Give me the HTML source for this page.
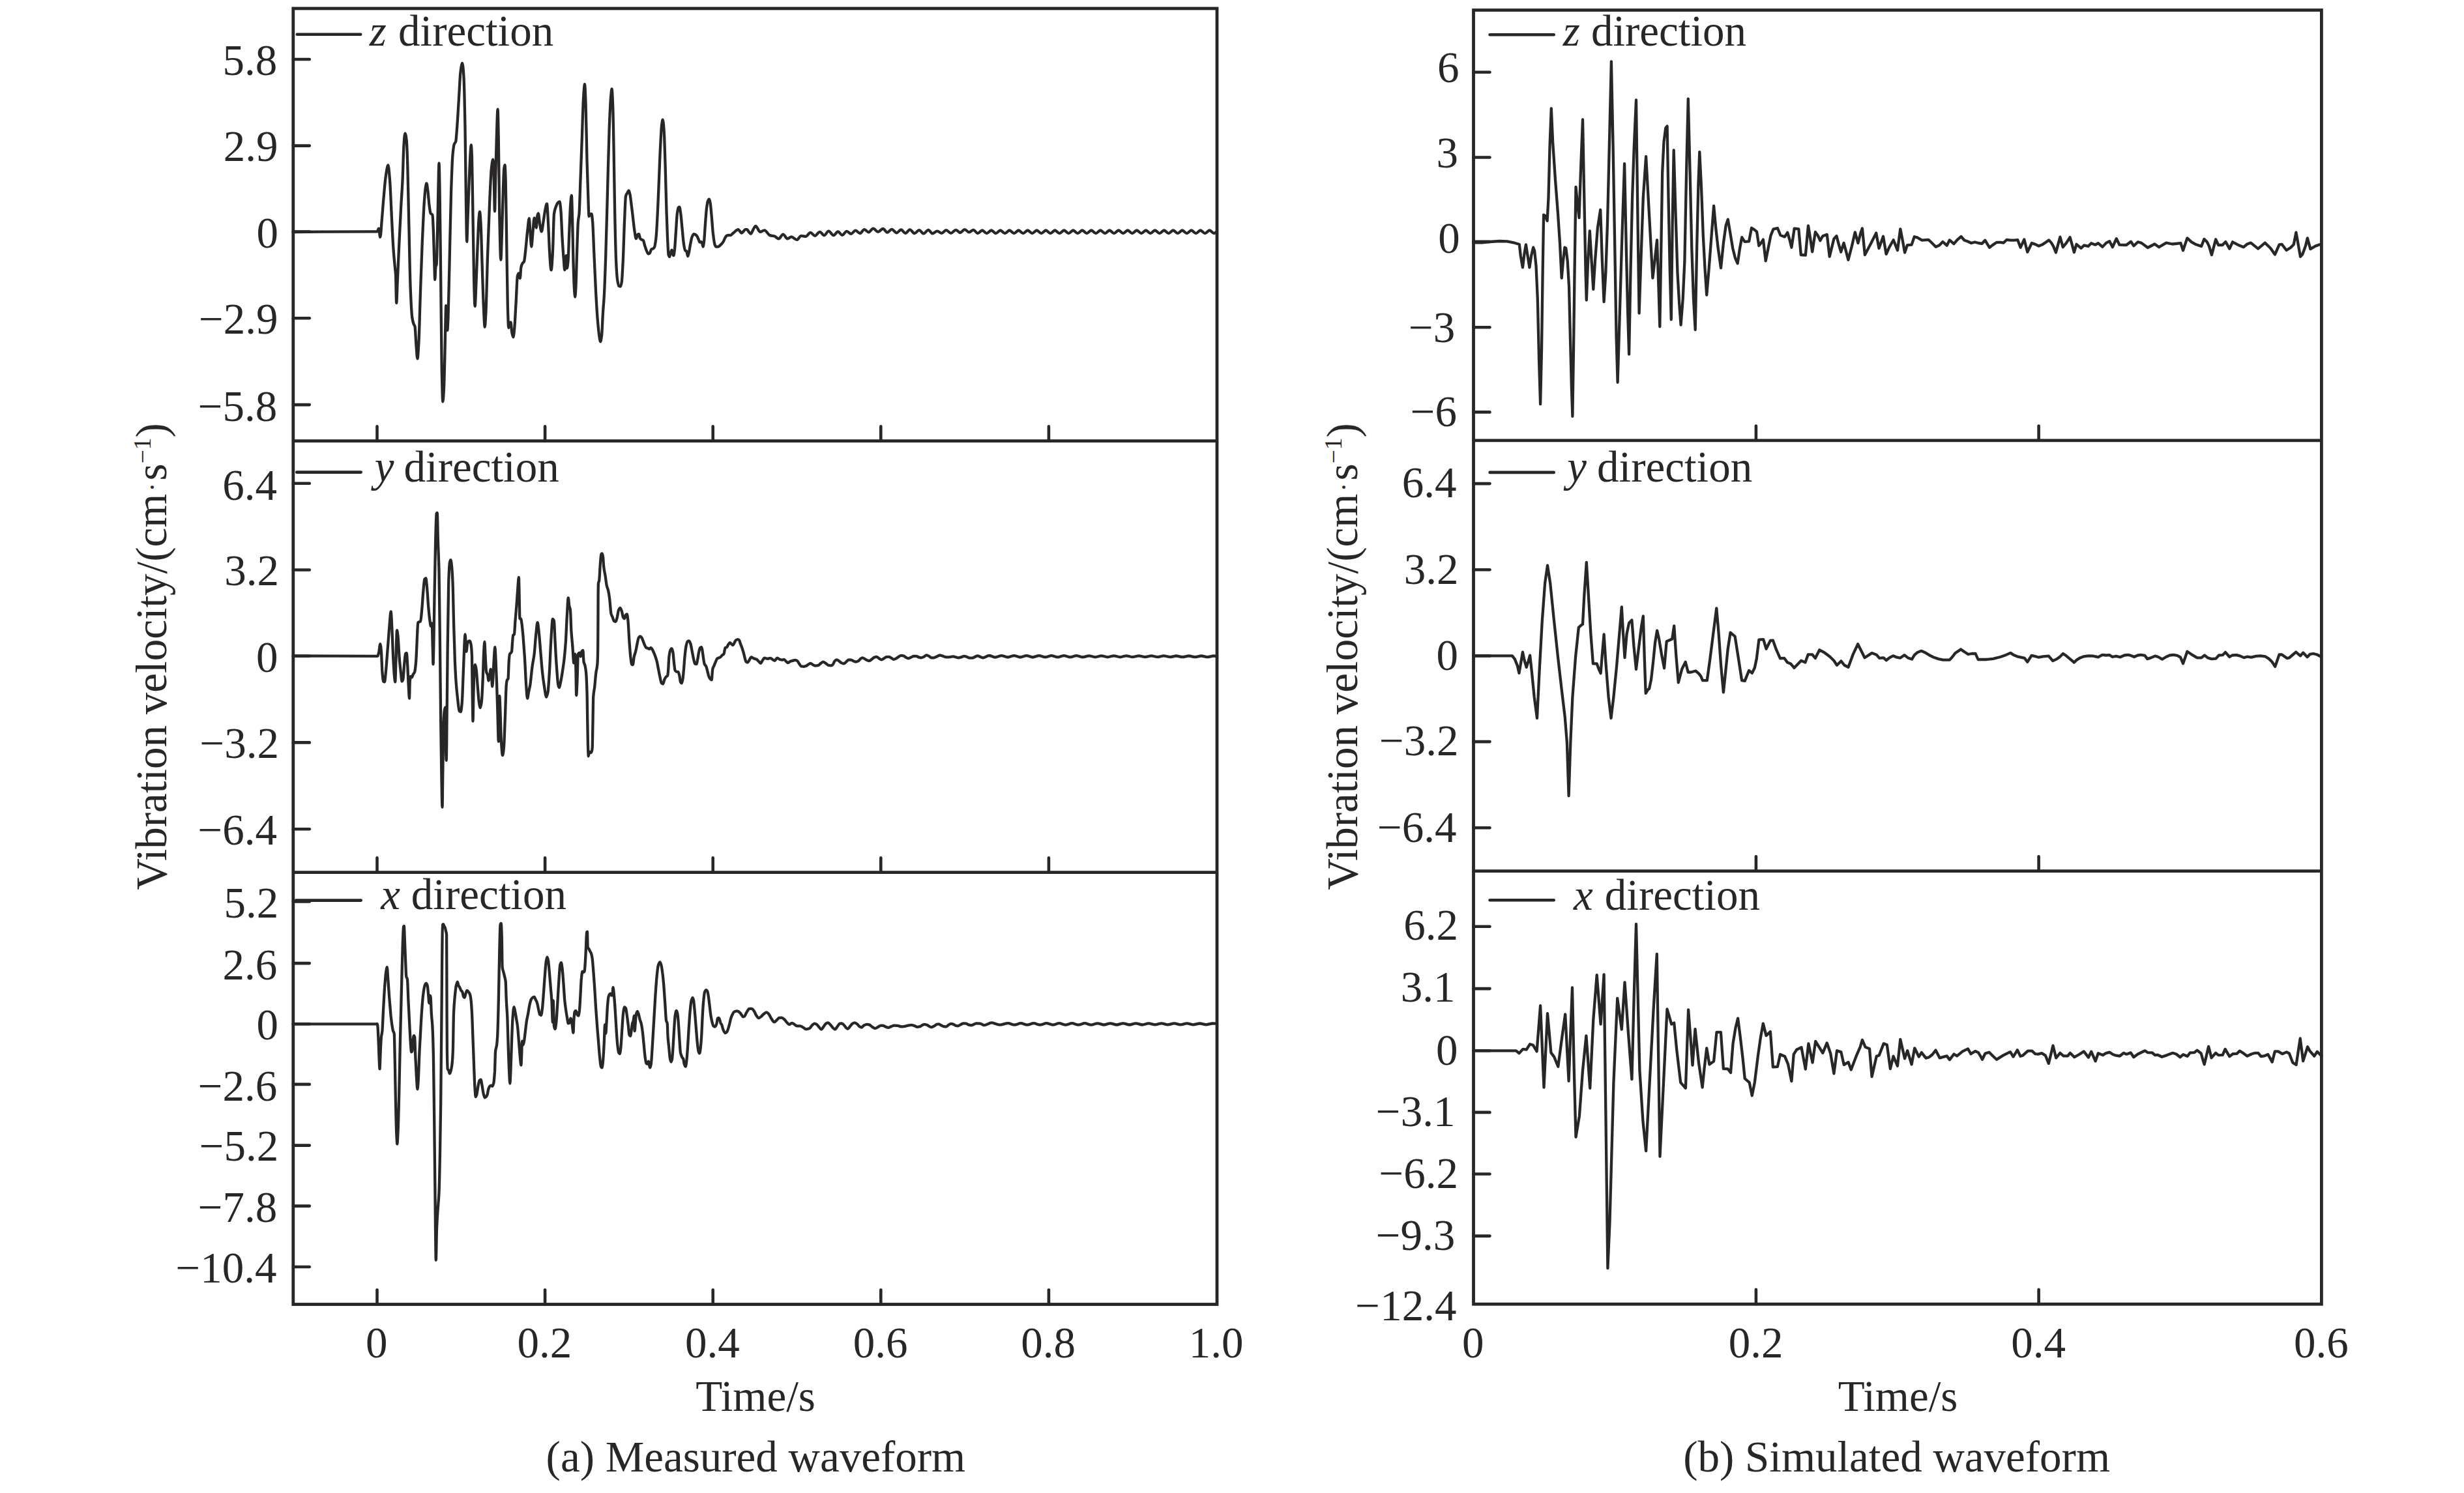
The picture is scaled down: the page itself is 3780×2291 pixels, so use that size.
<!DOCTYPE html>
<html lang="en"><head><meta charset="utf-8"><title>Measured and simulated vibration waveforms</title>
<style>
html,body{margin:0;padding:0;background:#fff;}
body{width:3780px;height:2291px;overflow:hidden;}
svg{display:block;}
svg text{font-family:"Liberation Serif",serif;font-size:67px;fill:#282627;stroke:none;}
</style></head><body>
<svg width="3780" height="2291" viewBox="0 0 3780 2291" stroke="#282627" fill="none">
<rect x="0" y="0" width="3780" height="2291" fill="#fff" stroke="none"/>
<rect x="449.8" y="13.0" width="1417.2" height="1988.5" fill="none" stroke-width="4.8"/>
<line x1="449.8" y1="676.7" x2="1867.0" y2="676.7" stroke-width="4.8" stroke-linecap="butt"/>
<line x1="449.8" y1="1338.7" x2="1867.0" y2="1338.7" stroke-width="4.8" stroke-linecap="butt"/>
<line x1="578.5" y1="676.7" x2="578.5" y2="654.4" stroke-width="4.6" stroke-linecap="round"/>
<line x1="836.1" y1="676.7" x2="836.1" y2="654.4" stroke-width="4.6" stroke-linecap="round"/>
<line x1="1093.7" y1="676.7" x2="1093.7" y2="654.4" stroke-width="4.6" stroke-linecap="round"/>
<line x1="1351.3" y1="676.7" x2="1351.3" y2="654.4" stroke-width="4.6" stroke-linecap="round"/>
<line x1="1608.9" y1="676.7" x2="1608.9" y2="654.4" stroke-width="4.6" stroke-linecap="round"/>
<line x1="578.5" y1="1338.7" x2="578.5" y2="1316.4" stroke-width="4.6" stroke-linecap="round"/>
<line x1="836.1" y1="1338.7" x2="836.1" y2="1316.4" stroke-width="4.6" stroke-linecap="round"/>
<line x1="1093.7" y1="1338.7" x2="1093.7" y2="1316.4" stroke-width="4.6" stroke-linecap="round"/>
<line x1="1351.3" y1="1338.7" x2="1351.3" y2="1316.4" stroke-width="4.6" stroke-linecap="round"/>
<line x1="1608.9" y1="1338.7" x2="1608.9" y2="1316.4" stroke-width="4.6" stroke-linecap="round"/>
<line x1="578.5" y1="2001.5" x2="578.5" y2="1979.2" stroke-width="4.6" stroke-linecap="round"/>
<line x1="836.1" y1="2001.5" x2="836.1" y2="1979.2" stroke-width="4.6" stroke-linecap="round"/>
<line x1="1093.7" y1="2001.5" x2="1093.7" y2="1979.2" stroke-width="4.6" stroke-linecap="round"/>
<line x1="1351.3" y1="2001.5" x2="1351.3" y2="1979.2" stroke-width="4.6" stroke-linecap="round"/>
<line x1="1608.9" y1="2001.5" x2="1608.9" y2="1979.2" stroke-width="4.6" stroke-linecap="round"/>
<text x="577.7" y="2083.0" text-anchor="middle">0</text>
<text x="835.3" y="2083.0" text-anchor="middle">0.2</text>
<text x="1092.9" y="2083.0" text-anchor="middle">0.4</text>
<text x="1350.5" y="2083.0" text-anchor="middle">0.6</text>
<text x="1608.1" y="2083.0" text-anchor="middle">0.8</text>
<text x="1865.7" y="2083.0" text-anchor="middle">1.0</text>
<line x1="449.8" y1="91.0" x2="474.8" y2="91.0" stroke-width="4.6" stroke-linecap="round"/>
<text x="425.3" y="115.0" text-anchor="end">5.8</text>
<line x1="449.8" y1="223.6" x2="474.8" y2="223.6" stroke-width="4.6" stroke-linecap="round"/>
<text x="426.5" y="247.4" text-anchor="end">2.9</text>
<line x1="449.8" y1="355.6" x2="474.8" y2="355.6" stroke-width="4.6" stroke-linecap="round"/>
<text x="427.0" y="379.7" text-anchor="end">0</text>
<line x1="449.8" y1="488.3" x2="474.8" y2="488.3" stroke-width="4.6" stroke-linecap="round"/>
<text x="426.5" y="512.4" text-anchor="end">−2.9</text>
<line x1="449.8" y1="621.1" x2="474.8" y2="621.1" stroke-width="4.6" stroke-linecap="round"/>
<text x="425.3" y="646.3" text-anchor="end">−5.8</text>
<line x1="449.8" y1="741.7" x2="474.8" y2="741.7" stroke-width="4.6" stroke-linecap="round"/>
<text x="425.0" y="766.8" text-anchor="end">6.4</text>
<line x1="449.8" y1="874.5" x2="474.8" y2="874.5" stroke-width="4.6" stroke-linecap="round"/>
<text x="428.0" y="898.1" text-anchor="end">3.2</text>
<line x1="449.8" y1="1006.8" x2="474.8" y2="1006.8" stroke-width="4.6" stroke-linecap="round"/>
<text x="426.6" y="1030.7" text-anchor="end">0</text>
<line x1="449.8" y1="1139.4" x2="474.8" y2="1139.4" stroke-width="4.6" stroke-linecap="round"/>
<text x="428.0" y="1163.1" text-anchor="end">−3.2</text>
<line x1="449.8" y1="1272.2" x2="474.8" y2="1272.2" stroke-width="4.6" stroke-linecap="round"/>
<text x="425.0" y="1296.1" text-anchor="end">−6.4</text>
<line x1="449.8" y1="1383.4" x2="474.8" y2="1383.4" stroke-width="4.6" stroke-linecap="round"/>
<text x="427.3" y="1408.2" text-anchor="end">5.2</text>
<line x1="449.8" y1="1478.1" x2="474.8" y2="1478.1" stroke-width="4.6" stroke-linecap="round"/>
<text x="425.3" y="1502.5" text-anchor="end">2.6</text>
<line x1="449.8" y1="1571.3" x2="474.8" y2="1571.3" stroke-width="4.6" stroke-linecap="round"/>
<text x="427.0" y="1595.1" text-anchor="end">0</text>
<line x1="449.8" y1="1663.9" x2="474.8" y2="1663.9" stroke-width="4.6" stroke-linecap="round"/>
<text x="425.3" y="1688.8" text-anchor="end">−2.6</text>
<line x1="449.8" y1="1757.6" x2="474.8" y2="1757.6" stroke-width="4.6" stroke-linecap="round"/>
<text x="427.3" y="1781.4" text-anchor="end">−5.2</text>
<line x1="449.8" y1="1850.6" x2="474.8" y2="1850.6" stroke-width="4.6" stroke-linecap="round"/>
<text x="425.3" y="1874.6" text-anchor="end">−7.8</text>
<line x1="449.8" y1="1944.0" x2="474.8" y2="1944.0" stroke-width="4.6" stroke-linecap="round"/>
<text x="424.5" y="1968.4" text-anchor="end">−10.4</text>
<line x1="455.8" y1="52.8" x2="553.2" y2="52.8" stroke-width="4.6" stroke-linecap="round"/>
<text y="70.0"><tspan x="566.8" font-style="italic">z</tspan><tspan x="611.1">direction</tspan></text>
<line x1="455.2" y1="724.6" x2="553.7" y2="724.6" stroke-width="4.6" stroke-linecap="round"/>
<text y="738.8"><tspan x="574.8" font-style="italic">y</tspan><tspan x="619.6">direction</tspan></text>
<line x1="454.2" y1="1381.6" x2="553.7" y2="1381.6" stroke-width="4.6" stroke-linecap="round"/>
<text y="1395.2"><tspan x="584.2" font-style="italic">x</tspan><tspan x="630.8">direction</tspan></text>
<rect x="2260.5" y="15.5" width="1300.9" height="1985.7" fill="none" stroke-width="4.8"/>
<line x1="2260.5" y1="675.8" x2="3561.4" y2="675.8" stroke-width="4.8" stroke-linecap="butt"/>
<line x1="2260.5" y1="1336.6" x2="3561.4" y2="1336.6" stroke-width="4.8" stroke-linecap="butt"/>
<line x1="2693.9" y1="675.8" x2="2693.9" y2="653.5" stroke-width="4.6" stroke-linecap="round"/>
<line x1="3127.6" y1="675.8" x2="3127.6" y2="653.5" stroke-width="4.6" stroke-linecap="round"/>
<line x1="2693.9" y1="1336.6" x2="2693.9" y2="1314.3" stroke-width="4.6" stroke-linecap="round"/>
<line x1="3127.6" y1="1336.6" x2="3127.6" y2="1314.3" stroke-width="4.6" stroke-linecap="round"/>
<line x1="2693.9" y1="2001.2" x2="2693.9" y2="1978.9" stroke-width="4.6" stroke-linecap="round"/>
<line x1="3127.6" y1="2001.2" x2="3127.6" y2="1978.9" stroke-width="4.6" stroke-linecap="round"/>
<text x="2259.8" y="2083.0" text-anchor="middle">0</text>
<text x="2693.5" y="2083.0" text-anchor="middle">0.2</text>
<text x="3127.2" y="2083.0" text-anchor="middle">0.4</text>
<text x="3560.9" y="2083.0" text-anchor="middle">0.6</text>
<line x1="2260.5" y1="110.7" x2="2285.5" y2="110.7" stroke-width="4.6" stroke-linecap="round"/>
<text x="2238.4" y="125.6" text-anchor="end">6</text>
<line x1="2260.5" y1="241.5" x2="2285.5" y2="241.5" stroke-width="4.6" stroke-linecap="round"/>
<text x="2237.0" y="257.4" text-anchor="end">3</text>
<line x1="2260.5" y1="370.9" x2="2285.5" y2="370.9" stroke-width="4.6" stroke-linecap="round"/>
<text x="2239.8" y="388.1" text-anchor="end">0</text>
<line x1="2260.5" y1="502.2" x2="2285.5" y2="502.2" stroke-width="4.6" stroke-linecap="round"/>
<text x="2232.3" y="524.8" text-anchor="end">−3</text>
<line x1="2260.5" y1="632.4" x2="2285.5" y2="632.4" stroke-width="4.6" stroke-linecap="round"/>
<text x="2235.0" y="654.2" text-anchor="end">−6</text>
<line x1="2260.5" y1="742.1" x2="2285.5" y2="742.1" stroke-width="4.6" stroke-linecap="round"/>
<text x="2234.5" y="763.2" text-anchor="end">6.4</text>
<line x1="2260.5" y1="874.3" x2="2285.5" y2="874.3" stroke-width="4.6" stroke-linecap="round"/>
<text x="2237.5" y="895.5" text-anchor="end">3.2</text>
<line x1="2260.5" y1="1006.4" x2="2285.5" y2="1006.4" stroke-width="4.6" stroke-linecap="round"/>
<text x="2237.0" y="1028.3" text-anchor="end">0</text>
<line x1="2260.5" y1="1138.1" x2="2285.5" y2="1138.1" stroke-width="4.6" stroke-linecap="round"/>
<text x="2237.5" y="1159.4" text-anchor="end">−3.2</text>
<line x1="2260.5" y1="1270.2" x2="2285.5" y2="1270.2" stroke-width="4.6" stroke-linecap="round"/>
<text x="2234.5" y="1291.7" text-anchor="end">−6.4</text>
<line x1="2260.5" y1="1421.7" x2="2285.5" y2="1421.7" stroke-width="4.6" stroke-linecap="round"/>
<text x="2237.0" y="1442.3" text-anchor="end">6.2</text>
<line x1="2260.5" y1="1517.1" x2="2285.5" y2="1517.1" stroke-width="4.6" stroke-linecap="round"/>
<text x="2232.4" y="1537.1" text-anchor="end">3.1</text>
<line x1="2260.5" y1="1612.3" x2="2285.5" y2="1612.3" stroke-width="4.6" stroke-linecap="round"/>
<text x="2236.5" y="1634.3" text-anchor="end">0</text>
<line x1="2260.5" y1="1706.9" x2="2285.5" y2="1706.9" stroke-width="4.6" stroke-linecap="round"/>
<text x="2232.4" y="1727.7" text-anchor="end">−3.1</text>
<line x1="2260.5" y1="1801.5" x2="2285.5" y2="1801.5" stroke-width="4.6" stroke-linecap="round"/>
<text x="2237.0" y="1822.7" text-anchor="end">−6.2</text>
<line x1="2260.5" y1="1896.6" x2="2285.5" y2="1896.6" stroke-width="4.6" stroke-linecap="round"/>
<text x="2232.3" y="1918.3" text-anchor="end">−9.3</text>
<text x="2234.4" y="2026.3" text-anchor="end">−12.4</text>
<line x1="2285.6" y1="53.2" x2="2383.7" y2="53.2" stroke-width="4.6" stroke-linecap="round"/>
<text y="70.0"><tspan x="2397.7" font-style="italic">z</tspan><tspan x="2440.9">direction</tspan></text>
<line x1="2285.6" y1="724.9" x2="2383.7" y2="724.9" stroke-width="4.6" stroke-linecap="round"/>
<text y="738.5"><tspan x="2404.2" font-style="italic">y</tspan><tspan x="2450.1">direction</tspan></text>
<line x1="2285.6" y1="1381.3" x2="2383.7" y2="1381.3" stroke-width="4.6" stroke-linecap="round"/>
<text y="1395.5"><tspan x="2414.0" font-style="italic">x</tspan><tspan x="2461.8">direction</tspan></text>
<text x="1159.0" y="2164.9" text-anchor="middle">Time/s</text>
<text x="2911.5" y="2164.9" text-anchor="middle">Time/s</text>
<text x="1159.4" y="2258.3" text-anchor="middle">(a) Measured waveform</text>
<text x="2909.6" y="2258.3" text-anchor="middle">(b) Simulated waveform</text>
<text transform="translate(254.5,1007.5) rotate(-90)" text-anchor="middle">Vibration velocity/(cm<tspan font-size="41.5" dx="3.2" dy="-6.4">·</tspan><tspan dx="3.2" dy="6.4">s</tspan><tspan font-size="37.3" dy="-23.6">−1</tspan><tspan dy="23.6">)</tspan></text>
<text transform="translate(2082.0,1007.5) rotate(-90)" text-anchor="middle">Vibration velocity/(cm<tspan font-size="41.5" dx="3.2" dy="-6.4">·</tspan><tspan dx="3.2" dy="6.4">s</tspan><tspan font-size="37.3" dy="-23.6">−1</tspan><tspan dy="23.6">)</tspan></text>
<path d="M449.8,356.0C491.7,355.8 533.6,355.3 575.5,355.3C576.6,355.3 577.6,355.3 578.7,355.3C579.4,355.3 580.2,350.7 581.0,350.7C581.8,350.7 582.5,363.9 583.3,363.9C584.1,363.9 584.9,348.5 585.6,339.8C586.7,328.1 587.7,312.4 588.8,300.9C589.8,289.4 590.8,276.5 591.9,269.8C593.0,262.4 594.2,253.5 595.4,253.5C596.3,253.5 597.2,266.5 598.1,277.6C599.0,288.7 599.9,314.5 600.8,332.0C601.7,349.5 602.6,369.6 603.5,382.5C604.3,393.6 605.1,401.4 605.9,409.7C606.2,413.9 606.6,415.2 607.0,421.4C607.4,427.5 607.8,464.9 608.2,464.9C608.7,464.9 609.2,444.3 609.7,433.0C610.5,416.1 611.3,395.4 612.1,378.6C613.1,356.2 614.1,335.2 615.2,316.5C616.0,302.4 616.7,294.0 617.5,277.6C618.2,264.0 618.8,232.5 619.5,223.2C620.1,213.9 620.7,204.6 621.4,204.6C622.2,204.6 622.9,209.0 623.7,215.4C624.2,219.7 624.8,237.9 625.3,254.3C625.9,274.7 626.6,311.5 627.2,339.8C628.0,373.7 628.8,421.5 629.6,440.8C630.5,463.3 631.4,481.4 632.3,487.4C633.1,492.6 633.8,495.1 634.6,497.1C635.3,498.9 635.9,498.7 636.5,501.0C637.2,503.3 637.8,522.2 638.5,530.2C639.1,538.1 639.8,550.4 640.4,550.4C641.1,550.4 641.7,537.5 642.4,526.3C643.2,512.8 643.9,478.7 644.7,456.3C645.7,426.6 646.8,394.9 647.8,370.9C648.9,346.9 649.9,323.1 650.9,308.7C651.6,299.7 652.2,290.9 652.9,287.3C653.4,284.5 653.9,281.5 654.4,281.5C655.1,281.5 655.7,288.3 656.4,293.1C657.1,298.9 657.9,310.9 658.7,316.5C659.3,321.1 660.0,326.3 660.6,327.3C661.5,328.7 662.5,328.1 663.4,329.7C663.9,330.6 664.4,343.7 664.9,355.3C665.4,366.9 666.0,394.9 666.5,409.7C666.7,417.1 667.0,429.1 667.2,429.1C667.6,429.1 668.0,411.9 668.4,409.7C668.8,407.6 669.2,408.2 669.6,405.8C670.0,403.5 670.4,385.3 670.7,370.9C671.3,351.7 671.8,314.9 672.3,293.1C672.7,276.8 673.1,250.4 673.5,250.4C673.9,250.4 674.2,273.4 674.6,293.1C675.1,319.4 675.7,383.8 676.2,429.1C676.7,474.5 677.2,540.3 677.7,565.1C678.3,590.0 678.8,616.4 679.3,616.4C679.8,616.4 680.3,608.5 680.8,600.1C681.4,591.8 681.9,564.9 682.4,545.7C683.0,521.7 683.7,468.8 684.3,468.8C684.7,468.8 685.1,479.7 685.5,487.4C685.8,492.6 686.0,506.9 686.3,506.9C686.7,506.9 687.1,496.3 687.5,487.4C688.1,472.7 688.7,436.5 689.4,409.7C690.3,372.3 691.2,320.3 692.1,293.1C692.9,269.8 693.7,247.6 694.4,238.7C695.2,229.9 696.0,223.4 696.8,221.3C697.6,219.1 698.3,219.7 699.1,217.4C699.8,215.5 700.4,204.3 701.1,196.0C702.0,184.4 702.9,167.5 703.8,153.3C704.7,139.0 705.6,117.4 706.5,110.5C707.4,103.6 708.3,96.9 709.2,96.9C710.0,96.9 710.8,106.5 711.5,118.3C712.2,128.1 712.8,161.8 713.5,196.0C714.0,223.3 714.5,281.8 715.0,312.6C715.4,335.7 715.8,370.9 716.2,370.9C716.6,370.9 717.0,350.1 717.4,339.8C718.2,319.1 718.9,296.3 719.7,277.6C720.4,262.0 721.0,243.9 721.6,234.9C722.0,229.4 722.4,222.4 722.8,222.4C723.2,222.4 723.6,232.5 724.0,242.6C724.5,256.1 725.0,301.0 725.5,332.0C726.1,363.0 726.6,410.0 727.1,429.1C727.6,448.3 728.1,469.9 728.6,469.9C729.2,469.9 729.7,451.9 730.2,440.8C731.1,421.4 732.0,391.1 732.9,370.9C733.6,356.4 734.2,337.7 734.9,332.0C735.2,328.6 735.6,325.0 736.0,325.0C736.5,325.0 737.1,334.9 737.6,343.7C738.2,354.6 738.9,382.5 739.5,401.9C740.3,425.3 741.1,456.2 741.9,471.9C742.5,484.9 743.1,501.8 743.8,501.8C744.3,501.8 744.8,489.6 745.4,479.7C746.3,462.3 747.2,416.8 748.1,390.3C749.1,360.0 750.1,331.1 751.2,308.7C752.1,289.0 753.0,266.1 753.9,258.2C754.7,251.4 755.5,244.6 756.2,244.6C756.7,244.6 757.3,263.0 757.8,277.6C758.2,288.5 758.6,324.2 759.0,324.2C759.3,324.2 759.7,293.1 760.1,277.6C760.6,256.9 761.2,231.4 761.7,215.4C762.3,195.5 763.0,167.6 763.6,167.6C764.0,167.6 764.4,195.1 764.8,215.4C765.3,242.5 765.8,307.2 766.3,332.0C767.0,363.0 767.6,398.8 768.3,398.8C768.8,398.8 769.3,377.5 769.8,363.1C770.5,345.1 771.1,310.9 771.8,293.1C772.3,278.9 772.8,261.8 773.3,258.2C773.7,255.4 774.1,253.1 774.5,253.1C774.9,253.1 775.3,265.8 775.7,277.6C776.2,293.4 776.7,339.1 777.2,370.9C777.7,402.6 778.3,450.9 778.8,468.0C779.3,485.1 779.8,503.0 780.3,503.0C780.8,503.0 781.4,498.4 781.9,497.1C782.4,495.9 782.9,494.4 783.4,494.4C784.1,494.4 784.7,507.6 785.4,510.7C786.0,513.9 786.7,517.4 787.3,517.4C788.0,517.4 788.6,509.5 789.3,503.0C790.0,495.1 790.8,477.4 791.6,464.1C792.4,450.9 793.1,426.0 793.9,423.3C794.6,421.0 795.2,419.4 795.9,419.4C796.5,419.4 797.2,427.2 797.8,427.2C798.3,427.2 798.8,411.9 799.4,409.7C800.1,406.4 800.9,405.1 801.7,403.9C802.5,402.7 803.2,402.8 804.0,401.2C804.8,399.6 805.6,389.4 806.4,382.5C807.3,374.5 808.2,363.0 809.1,355.3C810.0,347.6 810.9,335.1 811.8,335.1C812.3,335.1 812.8,348.8 813.4,355.3C814.0,363.4 814.6,378.6 815.3,378.6C815.9,378.6 816.6,365.9 817.2,359.2C818.0,351.2 818.8,334.3 819.6,334.3C820.1,334.3 820.6,341.3 821.1,343.7C821.6,346.1 822.2,349.5 822.7,349.5C823.2,349.5 823.7,334.5 824.2,332.0C824.7,329.5 825.3,327.3 825.8,327.3C826.6,327.3 827.3,339.5 828.1,343.7C829.0,348.5 829.9,355.3 830.8,355.3C831.7,355.3 832.7,345.2 833.6,339.8C834.6,333.6 835.6,324.8 836.7,320.3C837.4,317.0 838.2,312.6 839.0,312.6C839.6,312.6 840.3,328.8 840.9,339.8C841.7,352.9 842.5,379.4 843.3,390.3C844.0,401.2 844.8,414.4 845.6,414.4C846.4,414.4 847.2,399.6 847.9,386.4C848.6,374.7 849.3,332.9 850.0,328.1C851.0,320.9 852.1,319.1 853.1,316.5C854.1,313.9 855.2,311.4 856.2,310.6C857.0,310.0 857.8,309.5 858.5,309.5C859.2,309.5 859.8,317.1 860.5,324.2C861.1,331.4 861.8,351.9 862.4,363.1C863.2,376.5 864.0,388.6 864.8,398.1C865.3,404.4 865.8,414.4 866.3,414.4C866.8,414.4 867.4,407.1 867.9,401.9C868.1,399.4 868.4,392.2 868.7,392.2C869.0,392.2 869.4,411.7 869.8,411.7C870.3,411.7 870.9,407.0 871.4,401.9C872.0,395.7 872.7,370.2 873.3,355.3C874.0,340.5 874.6,320.2 875.3,312.6C875.8,306.5 876.3,299.8 876.8,299.8C877.2,299.8 877.6,318.8 878.0,332.0C878.5,349.6 879.0,384.3 879.5,401.9C880.0,419.6 880.6,437.6 881.1,444.7C881.5,450.0 881.9,455.6 882.3,455.6C882.6,455.6 883.0,447.7 883.4,440.8C883.9,431.6 884.5,405.3 885.0,390.3C885.6,371.5 886.3,347.2 886.9,339.8C887.4,333.9 888.0,334.0 888.5,328.1C889.1,320.7 889.8,294.6 890.4,277.6C891.2,257.1 892.0,236.8 892.7,215.4C893.5,194.1 894.3,161.0 895.1,149.4C895.7,139.7 896.4,129.2 897.0,129.2C897.5,129.2 898.1,146.7 898.6,161.0C899.2,178.9 899.9,222.5 900.5,246.5C901.2,270.5 901.8,293.0 902.5,308.7C902.8,318.1 903.2,332.0 903.6,332.0C904.3,332.0 904.9,329.3 905.6,328.9C906.2,328.5 906.9,328.1 907.5,328.1C908.0,328.1 908.5,334.2 909.1,339.8C909.8,348.2 910.6,373.5 911.4,390.3C912.3,409.8 913.2,432.1 914.1,448.6C915.0,465.0 915.9,480.3 916.8,491.3C917.6,500.8 918.4,509.5 919.2,514.6C919.8,518.9 920.5,524.3 921.1,524.3C921.8,524.3 922.4,519.7 923.1,514.6C923.7,509.6 924.3,489.9 925.0,479.7C925.6,469.5 926.3,464.2 926.9,452.5C927.7,438.3 928.5,413.9 929.3,390.3C930.2,362.7 931.1,325.5 932.0,293.1C932.9,260.8 933.8,219.1 934.7,196.0C935.5,176.2 936.3,158.2 937.0,149.4C937.6,143.5 938.1,136.5 938.6,136.5C939.1,136.5 939.6,148.8 940.1,161.0C940.7,173.3 941.2,206.9 941.7,234.9C942.2,262.8 942.7,308.1 943.3,332.0C943.9,361.9 944.6,388.9 945.2,401.9C945.8,415.0 946.5,424.9 947.1,429.1C947.9,434.2 948.7,438.4 949.5,438.9C950.3,439.3 951.0,439.6 951.8,439.6C952.5,439.6 953.1,436.7 953.7,433.0C954.4,429.4 955.0,414.8 955.7,401.9C956.5,386.5 957.2,357.5 958.0,339.8C958.7,325.0 959.3,303.3 960.0,300.9C960.7,298.0 961.5,297.7 962.3,296.3C963.1,294.8 963.9,292.4 964.6,292.4C965.3,292.4 965.9,296.0 966.6,299.0C967.3,302.6 968.1,310.3 968.9,316.5C969.7,322.6 970.5,329.4 971.2,335.9C972.0,342.4 972.8,350.7 973.6,355.3C974.3,360.0 975.1,366.2 975.9,366.2C976.7,366.2 977.5,360.5 978.2,360.0C978.9,359.5 979.5,359.2 980.2,359.2C980.8,359.2 981.5,365.5 982.1,366.2C982.9,367.1 983.7,367.3 984.4,367.8C985.2,368.2 986.0,368.2 986.8,368.9C987.6,369.6 988.3,374.3 989.1,376.7C990.0,379.5 990.9,382.4 991.8,384.5C992.7,386.5 993.6,389.5 994.6,389.5C995.3,389.5 996.1,389.0 996.9,388.3C997.7,387.7 998.4,383.0 999.2,382.5C1000.0,382.1 1000.8,382.1 1001.5,381.7C1002.3,381.4 1003.1,380.7 1003.9,379.4C1004.7,378.1 1005.4,373.1 1006.2,367.0C1007.0,360.9 1007.8,346.2 1008.5,332.0C1009.3,317.8 1010.1,295.7 1010.9,277.6C1011.6,259.5 1012.4,237.9 1013.2,223.2C1013.8,211.0 1014.5,197.3 1015.1,192.1C1015.7,187.9 1016.2,183.6 1016.7,183.6C1017.3,183.6 1018.0,191.5 1018.6,199.9C1019.3,208.3 1019.9,233.9 1020.6,254.3C1021.2,274.7 1021.9,304.1 1022.5,324.2C1023.0,340.3 1023.6,356.7 1024.1,367.0C1024.6,377.2 1025.1,389.2 1025.6,391.1C1026.2,392.9 1026.7,394.2 1027.2,394.2C1027.7,394.2 1028.2,389.9 1028.7,388.3C1029.4,386.4 1030.0,383.7 1030.7,383.7C1031.2,383.7 1031.7,389.1 1032.2,390.3C1032.6,391.2 1033.0,392.2 1033.4,392.2C1033.9,392.2 1034.4,386.9 1035.0,382.5C1035.6,377.0 1036.3,364.4 1036.9,355.3C1037.6,346.3 1038.2,332.9 1038.8,328.1C1039.5,323.3 1040.1,319.0 1040.8,318.4C1041.3,317.9 1041.8,317.6 1042.3,317.6C1043.0,317.6 1043.6,323.6 1044.3,328.1C1045.1,333.5 1045.8,343.7 1046.6,351.4C1047.4,359.2 1048.2,370.2 1049.0,374.7C1049.7,379.3 1050.5,383.7 1051.3,384.5C1051.9,385.1 1052.6,385.0 1053.2,385.6C1053.9,386.3 1054.5,393.4 1055.2,393.4C1055.7,393.4 1056.2,390.5 1056.7,388.3C1057.5,385.2 1058.3,378.6 1059.1,374.7C1060.0,370.2 1060.9,365.0 1061.8,363.1C1062.7,361.1 1063.6,359.2 1064.5,359.2C1065.3,359.2 1066.0,359.6 1066.8,360.0C1067.6,360.4 1068.4,361.3 1069.2,362.3C1069.9,363.3 1070.7,365.3 1071.5,367.0C1072.1,368.4 1072.8,371.6 1073.4,371.6C1074.1,371.6 1074.7,370.9 1075.4,370.9C1076.0,370.9 1076.7,372.4 1077.3,374.0C1077.7,374.9 1078.1,378.6 1078.5,378.6C1079.0,378.6 1079.5,374.6 1080.0,370.9C1080.7,366.2 1081.3,352.0 1082.0,343.7C1082.6,335.3 1083.3,325.5 1083.9,320.3C1084.6,315.2 1085.2,310.3 1085.9,308.7C1086.5,307.1 1087.2,305.6 1087.8,305.6C1088.5,305.6 1089.1,309.1 1089.8,312.6C1090.4,316.0 1091.0,325.0 1091.7,332.0C1092.5,340.4 1093.2,352.6 1094.0,359.2C1094.8,365.8 1095.6,372.7 1096.4,374.7C1097.1,376.8 1097.9,378.6 1098.7,378.6C1099.7,378.6 1100.8,378.6 1101.8,378.6C1102.7,378.6 1103.6,377.4 1104.5,376.7C1105.4,375.9 1106.3,375.0 1107.2,374.0C1108.0,373.1 1108.8,372.1 1109.6,370.9C1110.5,369.4 1111.4,366.5 1112.3,365.0C1113.2,363.6 1114.1,361.9 1115.0,361.5C1116.0,361.1 1117.1,360.8 1118.1,360.8C1119.0,360.8 1119.9,361.1 1120.8,361.1C1121.9,361.1 1122.9,359.3 1123.9,358.4C1124.9,357.6 1125.8,356.9 1126.7,356.1C1127.7,355.2 1128.7,354.0 1129.8,353.4C1130.7,352.9 1131.6,352.2 1132.5,352.2C1133.3,352.2 1134.0,353.7 1134.8,354.5C1135.7,355.5 1136.6,357.6 1137.5,357.6C1138.5,357.6 1139.4,356.2 1140.3,355.3C1141.3,354.4 1142.3,352.2 1143.4,352.2C1144.3,352.2 1145.2,352.2 1146.1,352.2C1146.9,352.2 1147.6,354.4 1148.4,355.3C1149.5,356.6 1150.7,358.8 1151.8,358.8C1153.0,358.8 1154.3,354.1 1155.5,352.1C1156.8,350.1 1158.0,346.8 1159.3,346.8C1161.5,346.8 1163.8,355.8 1166.0,355.8C1168.3,355.8 1170.5,353.3 1172.8,353.3C1175.6,353.3 1178.3,360.3 1181.1,361.1C1183.3,361.8 1185.6,361.7 1187.8,362.3C1190.1,362.9 1192.3,366.3 1194.6,366.3C1196.8,366.3 1199.1,359.6 1201.3,359.6C1203.6,359.6 1205.8,366.3 1208.1,366.3C1210.1,366.3 1212.1,363.3 1214.1,363.3C1216.8,363.3 1219.6,367.9 1222.4,367.9C1224.6,367.9 1226.9,361.8 1229.1,361.8C1231.4,361.8 1233.6,362.9 1235.9,362.9C1238.4,362.9 1240.9,356.9 1243.4,356.9C1245.6,356.9 1247.9,361.8 1250.1,361.8C1252.6,361.8 1255.1,355.8 1257.6,355.8C1259.9,355.8 1262.2,361.1 1264.4,361.1C1266.7,361.1 1268.9,354.6 1271.2,354.6C1273.7,354.6 1276.2,361.1 1278.7,361.1C1280.9,361.1 1283.2,355.5 1285.4,355.5C1287.7,355.5 1289.9,360.8 1292.2,360.8C1294.4,360.8 1296.7,354.8 1298.9,354.8C1301.2,354.8 1303.4,358.8 1305.7,358.8C1308.0,358.8 1310.2,353.6 1312.5,353.6C1314.7,353.6 1317.0,358.1 1319.2,358.1C1321.5,358.1 1323.7,352.1 1326.0,352.1C1328.2,352.1 1330.5,356.3 1332.7,356.3C1335.0,356.3 1337.2,350.6 1339.5,350.6C1342.0,350.6 1344.5,355.8 1347.0,355.8C1349.5,355.8 1352.0,351.0 1354.5,351.0C1356.8,351.0 1359.0,356.6 1361.3,356.6C1363.5,356.6 1365.8,351.8 1368.0,351.8C1370.5,351.8 1373.0,357.3 1375.5,357.3C1377.8,357.3 1380.0,352.5 1382.3,352.5C1384.5,352.5 1386.8,357.8 1389.0,357.8C1391.3,357.8 1393.6,352.4 1395.8,352.4C1398.2,352.4 1400.6,358.1 1403.0,358.1C1405.4,358.1 1407.7,353.1 1410.1,353.1C1412.3,353.1 1414.6,358.4 1416.8,358.4C1419.3,358.4 1421.8,352.8 1424.3,352.8C1426.3,352.8 1428.3,358.4 1430.3,358.4C1432.8,358.4 1435.4,354.6 1437.9,354.6C1440.1,354.6 1442.4,357.8 1444.6,357.8C1446.9,357.8 1449.1,353.1 1451.4,353.1C1453.9,353.1 1456.4,357.8 1458.9,357.8C1461.4,357.8 1463.9,352.8 1466.4,352.8C1468.6,352.8 1470.9,357.0 1473.1,357.0C1475.4,357.0 1477.6,352.1 1479.9,352.1C1482.2,352.1 1484.4,356.3 1486.7,356.3C1488.9,356.3 1491.2,352.8 1493.4,352.8C1495.6,352.8 1497.7,358.1 1499.8,358.1C1502.2,358.1 1504.5,353.5 1506.8,353.5C1509.1,353.5 1511.4,358.1 1513.8,358.1C1516.1,358.1 1518.4,353.5 1520.8,353.5C1523.1,353.5 1525.4,358.1 1527.7,358.1C1530.0,358.1 1532.4,353.5 1534.7,353.5C1537.0,353.5 1539.3,358.1 1541.7,358.1C1544.0,358.1 1546.3,353.5 1548.6,353.5C1551.0,353.5 1553.3,358.1 1555.6,358.1C1558.0,358.1 1560.3,353.5 1562.6,353.5C1564.9,353.5 1567.2,358.1 1569.6,358.1C1571.9,358.1 1574.2,353.5 1576.5,353.5C1578.9,353.5 1581.2,358.1 1583.5,358.1C1585.8,358.1 1588.2,353.5 1590.5,353.5C1592.8,353.5 1595.1,358.1 1597.5,358.1C1599.8,358.1 1602.1,353.5 1604.5,353.5C1606.8,353.5 1609.1,358.1 1611.4,358.1C1613.8,358.1 1616.1,353.5 1618.4,353.5C1620.7,353.5 1623.0,358.1 1625.4,358.1C1627.7,358.1 1630.0,353.5 1632.3,353.5C1634.7,353.5 1637.0,358.1 1639.3,358.1C1641.7,358.1 1644.0,353.5 1646.3,353.5C1648.6,353.5 1650.9,358.1 1653.3,358.1C1655.6,358.1 1657.9,353.5 1660.2,353.5C1662.6,353.5 1664.9,358.1 1667.2,358.1C1669.5,358.1 1671.9,353.5 1674.2,353.5C1676.5,353.5 1678.8,358.1 1681.2,358.1C1683.5,358.1 1685.8,353.5 1688.1,353.5C1690.5,353.5 1692.8,358.1 1695.1,358.1C1697.5,358.1 1699.8,353.5 1702.1,353.5C1704.4,353.5 1706.7,358.1 1709.1,358.1C1711.4,358.1 1713.7,353.5 1716.0,353.5C1718.4,353.5 1720.7,358.1 1723.0,358.1C1725.3,358.1 1727.7,353.5 1730.0,353.5C1732.3,353.5 1734.6,358.1 1737.0,358.1C1739.3,358.1 1741.6,353.5 1743.9,353.5C1746.3,353.5 1748.6,358.1 1750.9,358.1C1753.2,358.1 1755.6,353.5 1757.9,353.5C1760.2,353.5 1762.5,358.1 1764.9,358.1C1767.2,358.1 1769.5,353.5 1771.8,353.5C1774.2,353.5 1776.5,358.1 1778.8,358.1C1781.1,358.1 1783.5,353.5 1785.8,353.5C1788.1,353.5 1790.4,358.1 1792.8,358.1C1795.1,358.1 1797.4,353.5 1799.8,353.5C1802.1,353.5 1804.4,358.1 1806.7,358.1C1809.0,358.1 1811.4,353.5 1813.7,353.5C1816.0,353.5 1818.3,358.1 1820.7,358.1C1823.0,358.1 1825.3,353.5 1827.6,353.5C1830.0,353.5 1832.3,358.1 1834.6,358.1C1837.0,358.1 1839.3,353.5 1841.6,353.5C1843.9,353.5 1846.2,358.1 1848.6,358.1C1850.9,358.1 1853.2,353.5 1855.5,353.5C1857.9,353.5 1860.2,358.1 1862.5,358.1C1863.8,358.1 1865.2,356.4 1866.5,355.5" fill="none" stroke-width="4.3" stroke-linejoin="round" stroke-linecap="round"/>
<path d="M449.8,1006.5C492.2,1006.6 534.7,1006.8 577.1,1006.8C577.9,1006.8 578.7,1006.8 579.4,1006.8C580.1,1006.8 580.7,1002.7 581.4,999.8C582.0,996.9 582.7,988.1 583.3,988.1C583.8,988.1 584.4,994.1 584.9,999.8C585.4,1005.4 585.9,1024.2 586.4,1030.9C586.9,1037.5 587.5,1045.2 588.0,1045.6C588.6,1046.1 589.3,1046.4 589.9,1046.4C590.6,1046.4 591.2,1037.1 591.9,1030.9C592.9,1020.9 593.9,1005.1 595.0,992.0C595.9,980.5 596.8,966.9 597.7,957.0C598.3,950.0 599.0,938.4 599.6,938.4C600.2,938.4 600.7,951.6 601.2,960.9C601.8,972.5 602.5,995.1 603.1,1007.5C603.8,1020.0 604.4,1032.7 605.1,1038.6C605.5,1042.2 605.9,1046.4 606.2,1046.4C606.6,1046.4 607.0,1026.4 607.4,1015.3C607.9,1000.5 608.4,967.1 609.0,967.1C609.5,967.1 610.0,972.0 610.5,976.5C611.2,982.0 611.8,999.5 612.5,1007.5C613.2,1017.2 614.0,1024.2 614.8,1030.9C615.4,1036.4 616.1,1045.6 616.7,1045.6C617.3,1045.6 617.8,1044.2 618.3,1042.5C618.9,1040.4 619.6,1025.6 620.2,1019.2C620.9,1012.8 621.5,1003.5 622.2,1002.9C622.7,1002.4 623.2,1002.1 623.7,1002.1C624.2,1002.1 624.8,1014.7 625.3,1023.1C625.8,1031.4 626.3,1045.4 626.8,1054.2C627.2,1060.8 627.6,1071.7 628.0,1071.7C628.3,1071.7 628.5,1049.6 628.8,1046.4C629.2,1041.5 629.6,1037.9 629.9,1037.9C630.6,1037.9 631.2,1039.4 631.9,1039.4C632.5,1039.4 633.2,1036.0 633.8,1034.7C634.6,1033.2 635.4,1033.0 636.2,1030.9C636.8,1029.0 637.5,1022.7 638.1,1015.3C638.8,1007.9 639.4,988.7 640.0,976.5C640.4,969.1 640.8,956.0 641.2,955.5C641.9,954.7 642.5,954.7 643.2,954.3C643.8,953.9 644.5,953.9 645.1,953.1C645.7,952.4 646.4,944.0 647.0,937.6C647.8,929.9 648.6,914.8 649.4,906.5C650.0,899.6 650.7,890.2 651.3,889.0C652.0,887.9 652.6,887.1 653.3,887.1C653.8,887.1 654.3,893.9 654.8,898.7C655.6,906.1 656.4,920.9 657.1,929.8C657.9,938.7 658.7,948.1 659.5,953.1C660.0,956.5 660.5,960.9 661.0,960.9C661.5,960.9 662.1,956.3 662.6,956.3C663.0,956.3 663.4,979.2 663.7,992.0C664.0,1000.5 664.3,1019.2 664.5,1019.2C664.8,1019.2 665.0,1003.7 665.3,992.0C665.7,974.5 666.1,936.6 666.5,914.3C667.0,884.5 667.5,856.5 668.0,836.6C668.5,816.6 669.1,789.0 669.6,788.0C670.0,787.3 670.4,786.8 670.7,786.8C671.1,786.8 671.5,816.0 671.9,828.8C672.4,845.8 672.9,853.2 673.5,875.4C674.0,897.6 674.5,947.3 675.0,992.0C675.4,1025.5 675.8,1077.5 676.2,1108.6C676.6,1139.7 677.0,1165.4 677.3,1186.3C677.7,1207.2 678.1,1238.7 678.5,1238.7C678.8,1238.7 679.0,1203.7 679.3,1186.3C679.7,1160.2 680.1,1117.0 680.5,1108.6C681.0,1097.3 681.5,1091.8 682.0,1089.1C682.4,1087.2 682.8,1085.3 683.2,1085.3C683.4,1085.3 683.7,1137.6 684.0,1147.4C684.2,1157.3 684.5,1166.9 684.7,1166.9C685.0,1166.9 685.3,1130.6 685.5,1108.6C685.9,1075.6 686.3,1022.2 686.7,992.0C687.2,951.7 687.7,910.6 688.2,894.9C688.7,879.2 689.3,866.5 689.8,863.8C690.3,861.1 690.8,859.1 691.3,859.1C691.9,859.1 692.4,863.5 692.9,867.7C693.4,871.8 693.9,879.7 694.4,891.0C695.0,902.3 695.5,934.6 696.0,953.1C696.6,976.3 697.3,1000.4 697.9,1015.3C698.6,1030.2 699.2,1041.9 699.9,1050.3C700.7,1060.4 701.4,1066.9 702.2,1073.6C703.0,1080.3 703.8,1090.4 704.6,1091.1C705.3,1091.8 706.1,1092.3 706.9,1092.3C707.5,1092.3 708.2,1085.0 708.8,1077.5C709.5,1070.0 710.1,1046.7 710.8,1030.9C711.3,1018.2 711.8,1002.0 712.3,992.0C712.7,984.5 713.1,973.4 713.5,973.4C713.9,973.4 714.3,982.8 714.7,988.1C714.9,991.7 715.2,999.8 715.4,999.8C715.9,999.8 716.5,990.1 717.0,988.1C717.5,986.2 718.0,984.6 718.5,984.2C719.2,983.8 719.8,983.5 720.5,983.5C721.1,983.5 721.8,985.4 722.4,988.1C722.9,990.3 723.5,995.4 724.0,1007.5C724.2,1013.6 724.5,1054.3 724.8,1069.7C725.0,1085.2 725.3,1106.6 725.5,1106.6C725.8,1106.6 726.1,1080.0 726.3,1069.7C726.7,1054.3 727.1,1035.5 727.5,1030.9C728.0,1024.7 728.5,1020.0 729.0,1020.0C729.5,1020.0 730.1,1023.6 730.6,1027.0C731.2,1031.1 731.9,1042.6 732.5,1050.3C733.3,1059.5 734.1,1072.6 734.9,1077.5C735.5,1081.6 736.2,1086.0 736.8,1086.0C737.4,1086.0 738.1,1082.1 738.7,1077.5C739.4,1072.9 740.0,1056.7 740.7,1042.5C741.2,1031.2 741.7,1008.6 742.2,999.8C742.6,993.2 743.0,985.0 743.4,985.0C743.8,985.0 744.2,1000.9 744.6,1007.5C745.1,1016.4 745.6,1028.7 746.1,1030.9C746.8,1033.6 747.4,1033.3 748.1,1035.5C748.6,1037.3 749.1,1044.5 749.6,1044.5C750.1,1044.5 750.7,1041.2 751.2,1038.6C751.7,1036.0 752.2,1027.0 752.7,1027.0C753.1,1027.0 753.5,1028.7 753.9,1030.9C754.3,1033.1 754.7,1053.4 755.1,1053.4C755.5,1053.4 755.8,1047.4 756.2,1042.5C756.7,1036.0 757.3,1019.2 757.8,1011.4C758.3,1003.7 758.8,992.8 759.3,992.8C759.7,992.8 760.1,1003.9 760.5,1011.4C761.0,1021.4 761.5,1035.6 762.1,1050.3C762.6,1064.9 763.1,1084.2 763.6,1100.8C764.0,1113.3 764.4,1137.7 764.8,1137.7C765.0,1137.7 765.3,1119.9 765.6,1108.6C765.8,1097.2 766.1,1067.8 766.3,1067.8C766.7,1067.8 767.1,1083.3 767.5,1093.0C768.0,1106.0 768.5,1131.7 769.1,1139.7C769.7,1149.6 770.3,1159.1 771.0,1159.1C771.6,1159.1 772.3,1153.7 772.9,1147.4C773.6,1141.2 774.2,1117.0 774.9,1100.8C775.5,1084.6 776.2,1056.3 776.8,1050.3C777.2,1046.7 777.6,1044.0 778.0,1043.3C778.5,1042.4 779.0,1042.8 779.5,1041.7C779.9,1041.0 780.3,1020.7 780.7,1015.3C781.1,1009.9 781.5,1004.4 781.9,1003.7C782.4,1002.7 782.9,1002.7 783.4,1002.1C783.9,1001.5 784.5,1001.2 785.0,999.8C785.4,998.7 785.8,988.2 786.2,984.2C786.5,980.2 786.9,975.1 787.3,974.5C787.8,973.8 788.4,974.1 788.9,973.4C789.4,972.6 789.9,959.6 790.4,953.1C791.1,945.1 791.7,938.2 792.4,929.8C793.0,921.5 793.7,910.5 794.3,902.6C794.8,896.4 795.3,885.9 795.9,885.9C796.1,885.9 796.4,903.8 796.6,914.3C796.9,924.7 797.2,949.3 797.4,949.3C797.9,949.3 798.5,949.3 799.0,949.3C799.5,949.3 800.0,953.6 800.5,957.0C801.2,961.3 801.8,969.1 802.5,976.5C803.2,985.3 804.0,995.5 804.8,1007.5C805.6,1019.5 806.4,1039.7 807.1,1050.3C807.8,1059.1 808.4,1071.7 809.1,1071.7C809.7,1071.7 810.4,1065.2 811.0,1061.9C811.8,1058.1 812.6,1055.2 813.4,1050.3C814.4,1043.8 815.4,1030.6 816.5,1023.1C817.5,1015.5 818.5,1012.1 819.6,1003.7C820.5,996.3 821.4,980.7 822.3,972.6C823.1,965.6 823.8,955.1 824.6,955.1C825.3,955.1 825.9,963.1 826.6,968.7C827.5,976.5 828.4,989.4 829.3,999.8C830.2,1010.1 831.1,1022.6 832.0,1030.9C833.0,1040.3 834.1,1048.0 835.1,1054.2C836.1,1060.4 837.2,1069.7 838.2,1069.7C839.0,1069.7 839.8,1066.1 840.6,1061.9C841.3,1057.8 842.1,1043.3 842.9,1030.9C843.7,1018.4 844.4,996.3 845.2,984.2C846.1,970.2 847.0,950.0 847.9,950.0C848.6,950.0 849.3,951.1 850.0,953.1C850.5,954.7 851.0,974.8 851.6,984.2C852.3,998.4 853.1,1012.4 853.9,1023.1C854.7,1033.8 855.4,1046.7 856.2,1050.3C856.7,1052.7 857.3,1055.0 857.8,1055.0C858.5,1055.0 859.3,1049.9 860.1,1046.4C861.0,1042.4 861.9,1036.6 862.8,1030.9C863.7,1025.1 864.6,1019.5 865.5,1011.4C866.3,1004.5 867.1,995.8 867.9,984.2C868.5,974.6 869.2,956.2 869.8,945.4C870.5,934.5 871.1,917.4 871.8,917.4C872.3,917.4 872.8,927.2 873.3,929.8C873.8,932.5 874.4,932.4 874.9,935.7C875.4,939.0 875.9,960.7 876.4,968.7C877.1,978.7 877.7,983.9 878.4,992.0C879.0,1000.1 879.7,1017.3 880.3,1017.3C881.0,1017.3 881.6,1003.7 882.3,1003.7C882.6,1003.7 883.0,1015.4 883.4,1027.0C883.7,1034.7 883.9,1067.0 884.2,1067.0C884.6,1067.0 885.0,1054.7 885.4,1046.4C885.9,1035.4 886.4,1004.7 886.9,1003.7C887.6,1002.4 888.2,1001.7 888.9,1001.7C889.5,1001.7 890.2,1007.5 890.8,1007.5C891.3,1007.5 891.8,1000.7 892.4,999.8C893.0,998.7 893.7,997.8 894.3,997.8C894.7,997.8 895.1,1013.3 895.5,1015.3C896.1,1018.7 896.8,1018.5 897.4,1021.1C897.9,1023.3 898.4,1025.9 899.0,1030.9C899.5,1035.8 900.0,1045.5 900.5,1061.9C900.8,1070.2 901.0,1094.4 901.3,1108.6C901.6,1122.7 901.8,1141.0 902.1,1147.4C902.3,1153.9 902.6,1160.3 902.8,1160.3C903.2,1160.3 903.6,1153.3 904.0,1153.3C904.5,1153.3 905.0,1155.2 905.6,1155.2C906.1,1155.2 906.6,1154.9 907.1,1154.4C907.6,1154.0 908.2,1152.1 908.7,1147.4C908.9,1145.1 909.2,1121.5 909.5,1108.6C909.7,1095.6 910.0,1073.7 910.2,1069.7C910.9,1059.8 911.5,1059.9 912.2,1054.2C912.9,1047.3 913.7,1036.6 914.5,1030.9C915.2,1026.0 915.8,1026.6 916.4,1019.2C916.7,1016.3 917.0,1008.7 917.2,992.0C917.4,983.6 917.5,924.6 917.6,914.3C917.7,903.9 917.9,895.8 918.0,894.9C918.4,892.0 918.8,893.0 919.2,891.0C919.7,888.2 920.2,874.3 920.7,867.7C921.2,861.0 921.8,850.7 922.3,850.2C922.8,849.7 923.3,849.4 923.8,849.4C924.2,849.4 924.6,851.7 925.0,854.1C925.4,856.4 925.8,866.3 926.2,869.6C926.9,876.2 927.7,878.4 928.5,883.2C929.3,888.0 930.0,895.3 930.8,898.7C931.6,902.2 932.4,903.2 933.2,906.5C933.8,909.3 934.5,913.4 935.1,918.2C935.9,924.0 936.7,938.4 937.4,941.5C938.2,944.6 939.0,945.4 939.8,947.3C940.5,949.3 941.3,952.7 942.1,953.1C942.9,953.6 943.6,953.9 944.4,953.9C945.2,953.9 946.0,950.1 946.8,947.3C947.5,944.5 948.3,937.1 949.1,935.7C949.9,934.2 950.6,932.9 951.4,932.9C952.2,932.9 953.0,935.5 953.7,937.6C954.5,939.7 955.3,946.1 956.1,947.3C956.7,948.3 957.4,949.3 958.0,949.3C958.7,949.3 959.3,944.1 960.0,943.4C960.6,942.8 961.3,942.3 961.9,942.3C962.4,942.3 962.9,948.2 963.5,953.1C964.1,959.4 964.8,975.3 965.4,984.2C966.1,993.1 966.7,1001.6 967.3,1007.5C967.9,1012.3 968.4,1018.8 968.9,1019.2C969.6,1019.7 970.2,1020.0 970.8,1020.0C971.5,1020.0 972.1,1010.4 972.8,1007.5C973.6,1004.1 974.3,1002.9 975.1,999.8C975.9,996.7 976.7,991.6 977.5,988.1C978.2,984.6 979.0,979.5 979.8,978.4C980.6,977.3 981.3,976.5 982.1,976.5C982.9,976.5 983.7,977.4 984.4,978.4C985.2,979.4 986.0,982.3 986.8,984.2C987.6,986.2 988.3,988.5 989.1,990.1C989.9,991.6 990.7,993.5 991.4,993.9C992.2,994.4 993.0,994.4 993.8,994.7C994.6,995.0 995.3,995.9 996.1,995.9C996.9,995.9 997.7,993.9 998.4,993.9C999.2,993.9 1000.0,995.5 1000.8,996.7C1001.5,997.8 1002.3,999.9 1003.1,1001.7C1003.9,1003.5 1004.7,1005.3 1005.4,1007.5C1006.2,1009.8 1007.0,1012.2 1007.8,1015.3C1008.5,1018.4 1009.3,1023.1 1010.1,1027.0C1010.9,1030.9 1011.6,1035.1 1012.4,1038.6C1013.2,1042.2 1014.0,1047.7 1014.8,1048.3C1015.5,1049.0 1016.3,1049.5 1017.1,1049.5C1017.9,1049.5 1018.6,1044.2 1019.4,1042.5C1020.2,1040.9 1021.0,1039.5 1021.8,1038.6C1022.5,1037.8 1023.3,1038.0 1024.1,1036.7C1024.5,1036.0 1024.9,1031.3 1025.2,1027.0C1025.6,1022.7 1026.0,1010.7 1026.4,1007.5C1027.1,1002.3 1027.7,999.2 1028.4,997.8C1029.0,996.4 1029.7,995.1 1030.3,995.1C1030.9,995.1 1031.6,997.2 1032.2,999.8C1032.8,1001.8 1033.3,1011.0 1033.8,1015.3C1034.4,1020.7 1035.1,1027.9 1035.7,1028.9C1036.5,1030.1 1037.3,1030.9 1038.1,1030.9C1038.8,1030.9 1039.6,1030.9 1040.4,1030.9C1041.0,1030.9 1041.7,1034.0 1042.3,1036.7C1042.9,1038.8 1043.4,1045.3 1043.9,1046.4C1044.4,1047.5 1044.9,1048.3 1045.5,1048.3C1046.1,1048.3 1046.7,1045.6 1047.4,1042.5C1047.9,1040.1 1048.4,1032.7 1049.0,1027.0C1049.5,1021.2 1050.0,1012.6 1050.5,1007.5C1051.2,1001.2 1051.8,995.1 1052.4,992.0C1053.2,988.3 1054.0,984.7 1054.8,984.2C1055.6,983.8 1056.3,983.5 1057.1,983.5C1057.9,983.5 1058.7,985.9 1059.4,988.1C1060.2,990.3 1061.0,995.9 1061.8,999.8C1062.6,1003.7 1063.3,1008.2 1064.1,1011.4C1064.8,1014.1 1065.4,1018.0 1066.0,1018.4C1066.8,1018.9 1067.6,1019.2 1068.4,1019.2C1069.0,1019.2 1069.7,1014.5 1070.3,1011.4C1071.0,1008.3 1071.6,1002.4 1072.3,999.8C1072.9,997.2 1073.6,994.6 1074.2,993.9C1074.9,993.3 1075.5,992.8 1076.2,992.8C1076.7,992.8 1077.2,996.9 1077.7,999.8C1078.2,1002.7 1078.7,1008.3 1079.3,1011.4C1079.8,1014.5 1080.3,1018.1 1080.8,1019.2C1081.6,1020.9 1082.4,1020.8 1083.1,1022.3C1083.8,1023.6 1084.4,1026.5 1085.1,1028.9C1085.7,1031.3 1086.4,1034.9 1087.0,1036.7C1087.8,1038.9 1088.6,1040.9 1089.4,1041.7C1090.1,1042.5 1090.9,1043.3 1091.7,1043.3C1092.2,1043.3 1092.7,1029.2 1093.2,1027.0C1094.0,1023.7 1094.8,1023.1 1095.6,1021.1C1096.4,1019.2 1097.1,1017.0 1097.9,1015.3C1098.7,1013.6 1099.5,1011.3 1100.2,1010.7C1101.0,1010.0 1101.8,1009.8 1102.6,1009.5C1103.5,1009.1 1104.4,1008.9 1105.3,1008.3C1106.1,1007.8 1106.8,1006.3 1107.6,1005.6C1108.5,1004.8 1109.4,1004.8 1110.3,1003.7C1111.1,1002.7 1111.9,994.4 1112.7,993.9C1113.5,993.5 1114.2,993.6 1115.0,993.2C1115.8,992.7 1116.6,990.0 1117.3,988.9C1118.1,987.8 1118.9,986.2 1119.7,986.2C1120.4,986.2 1121.2,987.5 1122.0,988.1C1122.8,988.8 1123.6,990.1 1124.3,990.1C1125.1,990.1 1125.9,987.5 1126.7,986.2C1127.4,984.9 1128.2,982.8 1129.0,982.3C1129.9,981.7 1130.8,981.1 1131.7,981.1C1132.5,981.1 1133.3,981.6 1134.0,982.3C1134.7,982.9 1135.3,986.3 1136.0,988.1C1136.8,990.2 1137.5,991.7 1138.3,993.9C1139.1,996.2 1139.9,998.9 1140.7,1001.7C1141.3,1004.1 1142.0,1007.3 1142.6,1009.5C1143.2,1011.7 1143.9,1014.8 1144.5,1015.3C1145.3,1016.0 1146.1,1016.5 1146.9,1016.5C1147.6,1016.5 1148.4,1014.5 1149.2,1013.4C1150.3,1011.8 1151.4,1008.4 1152.5,1008.4C1153.8,1008.4 1155.0,1009.8 1156.3,1010.3C1157.8,1011.0 1159.3,1011.1 1160.8,1011.8C1161.8,1012.4 1162.8,1013.8 1163.8,1014.8C1164.8,1015.8 1165.8,1017.9 1166.8,1017.9C1167.8,1017.9 1168.8,1014.7 1169.8,1013.3C1170.8,1012.0 1171.8,1009.6 1172.8,1009.6C1174.3,1009.6 1175.8,1010.8 1177.3,1010.8C1178.8,1010.8 1180.3,1009.9 1181.8,1009.9C1183.1,1009.9 1184.3,1011.6 1185.6,1012.3C1186.6,1012.9 1187.6,1013.8 1188.6,1013.8C1189.8,1013.8 1191.1,1009.6 1192.3,1009.6C1193.6,1009.6 1194.8,1011.5 1196.1,1011.8C1197.3,1012.2 1198.6,1012.6 1199.8,1012.6C1200.8,1012.6 1201.8,1011.8 1202.8,1011.8C1203.8,1011.8 1204.8,1014.0 1205.8,1014.8C1206.8,1015.7 1207.8,1017.1 1208.8,1017.1C1210.1,1017.1 1211.3,1015.3 1212.6,1014.8C1213.8,1014.4 1215.1,1014.1 1216.3,1013.8C1217.6,1013.5 1218.9,1012.9 1220.1,1012.9C1221.1,1012.9 1222.1,1013.5 1223.1,1014.1C1224.1,1014.7 1225.1,1017.2 1226.1,1018.6C1227.1,1020.0 1228.1,1022.1 1229.1,1022.4C1230.4,1022.6 1231.6,1022.8 1232.9,1022.8C1234.1,1022.8 1235.4,1022.3 1236.6,1021.9C1237.9,1021.5 1239.1,1020.1 1240.4,1019.4C1241.4,1018.8 1242.4,1017.9 1243.4,1017.9C1244.6,1017.9 1245.9,1019.5 1247.1,1020.1C1248.4,1020.7 1249.6,1021.6 1250.9,1021.6C1252.4,1021.6 1253.9,1021.3 1255.4,1020.9C1256.6,1020.5 1257.9,1018.7 1259.1,1017.9C1260.4,1017.0 1261.7,1015.6 1262.9,1015.6C1264.2,1015.6 1265.4,1017.1 1266.7,1017.9C1268.2,1018.8 1269.7,1020.6 1271.2,1020.9C1272.4,1021.1 1273.7,1021.3 1274.9,1021.3C1275.9,1021.3 1276.9,1020.4 1277.9,1019.4C1278.7,1018.6 1279.4,1015.8 1280.2,1014.8C1281.2,1013.6 1282.2,1012.3 1283.2,1012.3C1284.4,1012.3 1285.7,1013.3 1286.9,1014.1C1288.2,1014.8 1289.4,1016.5 1290.7,1017.1C1291.9,1017.7 1293.2,1018.3 1294.4,1018.3C1295.7,1018.3 1296.9,1016.6 1298.2,1015.6C1299.4,1014.6 1300.7,1012.3 1301.9,1012.3C1303.2,1012.3 1304.5,1012.4 1305.7,1012.6C1307.0,1012.8 1308.2,1013.9 1309.5,1014.4C1310.7,1014.9 1312.0,1015.6 1313.2,1015.6C1314.5,1015.6 1315.7,1014.8 1317.0,1014.1C1318.0,1013.5 1319.0,1011.8 1320.0,1011.1C1321.0,1010.3 1322.0,1009.3 1323.0,1009.3C1324.2,1009.3 1325.5,1010.4 1326.7,1011.1C1328.0,1011.8 1329.2,1012.9 1330.5,1013.3C1331.5,1013.7 1332.5,1014.1 1333.5,1014.1C1334.7,1014.1 1336.0,1012.7 1337.2,1011.8C1338.5,1011.0 1339.7,1009.4 1341.0,1008.8C1342.2,1008.3 1343.5,1007.8 1344.7,1007.8C1346.0,1007.8 1347.2,1009.6 1348.5,1010.3C1349.8,1011.1 1351.0,1012.3 1352.3,1012.3C1353.5,1012.3 1354.8,1011.0 1356.0,1010.3C1357.3,1009.6 1358.5,1008.3 1359.8,1008.1C1361.0,1007.9 1362.3,1007.8 1363.5,1007.8C1364.8,1007.8 1366.0,1008.9 1367.3,1009.6C1368.5,1010.3 1369.8,1011.8 1371.0,1011.8C1372.3,1011.8 1373.5,1011.0 1374.8,1010.3C1376.0,1009.7 1377.3,1008.5 1378.5,1007.8C1379.8,1007.1 1381.0,1005.8 1382.3,1005.8C1383.5,1005.8 1384.8,1006.0 1386.0,1006.3C1387.3,1006.5 1388.5,1008.2 1389.8,1008.8C1391.1,1009.5 1392.3,1010.3 1393.6,1010.3C1394.8,1010.3 1396.1,1009.4 1397.3,1008.8C1398.8,1008.2 1400.3,1006.9 1401.8,1006.9C1403.1,1006.9 1404.3,1006.9 1405.6,1006.9C1406.8,1006.9 1408.1,1008.0 1409.3,1008.4C1410.6,1008.8 1411.8,1009.3 1413.1,1009.3C1414.3,1009.3 1415.6,1008.6 1416.8,1008.1C1418.3,1007.5 1419.8,1005.4 1421.3,1005.4C1422.6,1005.4 1423.8,1006.3 1425.1,1006.9C1426.3,1007.5 1427.6,1009.3 1428.8,1009.3C1430.1,1009.3 1431.3,1009.3 1432.6,1009.3C1433.8,1009.3 1435.1,1008.3 1436.4,1007.8C1438.1,1007.1 1439.9,1005.5 1441.6,1005.5C1442.9,1005.5 1444.1,1006.0 1445.4,1006.3C1446.9,1006.7 1448.4,1007.9 1449.9,1008.1C1451.4,1008.3 1452.9,1008.4 1454.4,1008.4C1455.9,1008.4 1457.4,1008.0 1458.9,1007.8C1460.1,1007.6 1461.4,1007.3 1462.6,1007.3C1463.9,1007.3 1465.1,1008.1 1466.4,1008.4C1467.6,1008.7 1468.9,1009.3 1470.1,1009.3C1471.6,1009.3 1473.1,1008.8 1474.6,1008.4C1476.1,1008.0 1477.6,1006.9 1479.2,1006.9C1480.4,1006.9 1481.7,1007.4 1482.9,1007.8C1484.4,1008.2 1485.9,1009.6 1487.4,1009.6C1488.9,1009.6 1490.4,1009.6 1491.9,1009.6C1492.9,1009.6 1494.0,1008.6 1495.0,1008.2C1496.5,1007.6 1498.1,1006.4 1499.6,1006.4C1501.1,1006.4 1502.5,1007.5 1504.0,1008.0C1505.4,1008.5 1506.7,1009.4 1508.1,1009.4C1511.2,1009.4 1514.2,1006.0 1517.3,1006.0C1520.5,1006.0 1523.7,1008.6 1526.9,1008.6C1530.1,1008.6 1533.3,1006.1 1536.5,1006.1C1539.6,1006.1 1542.8,1008.5 1546.0,1008.5C1549.2,1008.5 1552.4,1006.1 1555.6,1006.1C1558.8,1006.1 1562.0,1008.5 1565.2,1008.5C1568.4,1008.5 1571.6,1006.1 1574.8,1006.1C1577.9,1006.1 1581.1,1008.5 1584.3,1008.5C1587.5,1008.5 1590.7,1006.1 1593.9,1006.1C1597.1,1006.1 1600.3,1008.4 1603.5,1008.4C1606.7,1008.4 1609.9,1006.2 1613.0,1006.2C1616.2,1006.2 1619.4,1008.4 1622.6,1008.4C1625.8,1008.4 1629.0,1006.2 1632.2,1006.2C1635.4,1006.2 1638.6,1008.4 1641.8,1008.4C1645.0,1008.4 1648.2,1006.2 1651.3,1006.2C1654.5,1006.2 1657.7,1008.4 1660.9,1008.4C1664.1,1008.4 1667.3,1006.3 1670.5,1006.3C1673.7,1006.3 1676.9,1008.3 1680.1,1008.3C1683.3,1008.3 1686.5,1006.3 1689.6,1006.3C1692.8,1006.3 1696.0,1008.3 1699.2,1008.3C1702.4,1008.3 1705.6,1006.3 1708.8,1006.3C1712.0,1006.3 1715.2,1008.3 1718.4,1008.3C1721.6,1008.3 1724.8,1006.3 1727.9,1006.3C1731.1,1006.3 1734.3,1008.2 1737.5,1008.2C1740.7,1008.2 1743.9,1006.4 1747.1,1006.4C1750.3,1006.4 1753.5,1008.2 1756.7,1008.2C1759.9,1008.2 1763.1,1006.4 1766.2,1006.4C1769.4,1006.4 1772.6,1008.2 1775.8,1008.2C1779.0,1008.2 1782.2,1006.4 1785.4,1006.4C1788.6,1006.4 1791.8,1008.2 1795.0,1008.2C1798.2,1008.2 1801.4,1006.5 1804.5,1006.5C1807.7,1006.5 1810.9,1008.1 1814.1,1008.1C1817.3,1008.1 1820.5,1006.5 1823.7,1006.5C1826.9,1006.5 1830.1,1008.1 1833.3,1008.1C1836.5,1008.1 1839.7,1006.5 1842.8,1006.5C1846.0,1006.5 1849.2,1008.1 1852.4,1008.1C1855.6,1008.1 1858.8,1006.5 1862.0,1006.5C1863.5,1006.5 1865.0,1006.8 1866.5,1007.0" fill="none" stroke-width="4.3" stroke-linejoin="round" stroke-linecap="round"/>
<path d="M449.8,1571.3C492.2,1571.3 534.7,1571.3 577.1,1571.3C577.6,1571.3 578.1,1571.2 578.7,1571.2C578.9,1571.2 579.2,1572.6 579.4,1574.3C579.8,1576.8 580.2,1588.7 580.6,1597.6C581.0,1606.5 581.4,1621.4 581.8,1628.7C582.0,1633.6 582.3,1640.3 582.5,1640.3C582.9,1640.3 583.3,1621.1 583.7,1613.1C584.1,1605.2 584.5,1595.5 584.9,1591.8C585.4,1586.8 585.9,1587.0 586.4,1582.1C586.9,1577.1 587.5,1560.5 588.0,1551.0C588.8,1536.8 589.5,1522.4 590.3,1512.1C591.0,1503.6 591.6,1494.7 592.3,1490.7C592.8,1487.6 593.3,1484.1 593.8,1484.1C594.3,1484.1 594.8,1497.4 595.4,1504.3C596.0,1513.1 596.7,1523.3 597.3,1531.5C598.1,1541.5 598.9,1551.4 599.6,1558.7C600.3,1564.9 600.9,1570.3 601.6,1574.3C602.1,1577.4 602.6,1580.3 603.1,1582.1C603.7,1583.8 604.2,1583.4 604.7,1585.9C605.1,1587.9 605.5,1615.3 605.9,1632.6C606.2,1649.8 606.6,1673.6 607.0,1690.9C607.4,1708.1 607.8,1728.9 608.2,1737.5C608.6,1746.1 609.0,1755.4 609.3,1755.4C609.7,1755.4 610.1,1745.6 610.5,1737.5C611.0,1726.6 611.6,1703.6 612.1,1683.1C612.7,1657.5 613.4,1621.4 614.0,1593.7C614.7,1566.0 615.3,1541.0 616.0,1516.0C616.5,1496.0 617.0,1472.5 617.5,1457.7C618.0,1442.9 618.5,1423.3 619.1,1422.0C619.3,1421.3 619.6,1420.8 619.8,1420.8C620.2,1420.8 620.6,1436.8 621.0,1446.1C621.4,1455.3 621.8,1468.7 622.2,1477.1C622.6,1485.6 622.9,1496.7 623.3,1498.5C623.9,1500.9 624.4,1500.1 624.9,1502.4C625.4,1504.7 625.9,1524.7 626.4,1535.4C627.1,1548.8 627.7,1562.2 628.4,1574.3C628.9,1583.9 629.4,1594.6 629.9,1601.5C630.3,1606.7 630.7,1614.3 631.1,1614.3C631.5,1614.3 631.9,1613.9 632.3,1613.1C632.7,1612.4 633.1,1600.7 633.4,1597.6C634.0,1593.5 634.5,1589.1 635.0,1589.1C635.4,1589.1 635.8,1590.1 636.2,1591.8C636.5,1593.4 636.9,1612.2 637.3,1620.9C637.8,1632.5 638.4,1644.0 638.9,1652.0C639.4,1660.0 639.9,1671.4 640.4,1671.4C640.8,1671.4 641.2,1665.1 641.6,1659.8C642.2,1650.9 642.9,1626.8 643.5,1613.1C644.5,1594.0 645.4,1576.4 646.3,1562.6C647.2,1548.9 648.1,1534.8 649.0,1527.7C649.9,1520.5 650.8,1514.3 651.7,1512.1C652.4,1510.5 653.0,1509.0 653.6,1509.0C654.3,1509.0 654.9,1510.3 655.6,1512.1C656.1,1513.6 656.6,1520.5 657.1,1525.7C657.5,1529.6 657.9,1539.3 658.3,1539.3C658.7,1539.3 659.1,1527.7 659.5,1527.7C659.9,1527.7 660.3,1528.4 660.6,1529.6C661.0,1530.8 661.4,1548.6 661.8,1554.9C662.3,1563.2 662.8,1565.1 663.4,1574.3C663.9,1583.4 664.4,1598.1 664.9,1620.9C665.3,1638.0 665.7,1679.3 666.1,1710.3C666.5,1741.3 666.9,1771.9 667.2,1807.4C667.5,1831.1 667.8,1865.2 668.0,1885.1C668.3,1905.1 668.5,1933.7 668.8,1933.7C669.2,1933.7 669.6,1894.9 670.0,1885.1C670.5,1872.1 671.0,1866.0 671.5,1857.9C672.2,1847.8 672.8,1844.4 673.5,1830.7C674.0,1819.8 674.5,1794.8 675.0,1768.6C675.4,1748.9 675.8,1721.9 676.2,1690.9C676.6,1659.8 677.0,1617.8 677.3,1574.3C677.6,1545.3 677.9,1501.4 678.1,1477.1C678.4,1452.9 678.6,1419.2 678.9,1418.9C679.3,1418.3 679.7,1418.1 680.1,1418.1C680.5,1418.1 680.8,1420.0 681.2,1420.8C681.8,1421.8 682.3,1422.2 682.8,1423.5C683.2,1424.5 683.6,1426.8 684.0,1428.6C684.3,1430.4 684.7,1429.9 685.1,1434.4C685.3,1435.9 685.4,1506.1 685.5,1535.4C685.6,1564.7 685.8,1604.8 685.9,1613.1C686.2,1629.9 686.4,1639.6 686.7,1640.3C687.2,1641.7 687.7,1641.4 688.2,1642.3C688.7,1643.2 689.3,1647.3 689.8,1647.3C690.3,1647.3 690.8,1645.7 691.3,1644.2C692.0,1642.4 692.6,1639.3 693.3,1634.5C693.8,1630.7 694.3,1624.6 694.8,1613.1C695.2,1604.5 695.6,1563.8 696.0,1554.9C696.6,1540.0 697.3,1534.3 697.9,1527.7C698.6,1521.1 699.2,1514.8 699.9,1512.1C700.5,1509.4 701.2,1506.7 701.8,1506.7C702.3,1506.7 702.9,1511.0 703.4,1512.1C704.0,1513.6 704.7,1514.0 705.3,1515.2C706.0,1516.5 706.6,1519.0 707.3,1519.9C707.9,1520.8 708.6,1520.8 709.2,1521.8C709.9,1522.9 710.5,1528.8 711.2,1529.6C711.7,1530.2 712.2,1530.8 712.7,1530.8C713.4,1530.8 714.0,1525.4 714.7,1523.8C715.3,1522.1 715.9,1519.9 716.6,1519.9C717.2,1519.9 717.9,1521.1 718.5,1521.8C719.2,1522.6 719.8,1523.2 720.5,1524.6C721.1,1525.9 721.8,1528.9 722.4,1533.5C722.9,1537.1 723.5,1545.7 724.0,1554.9C724.5,1564.1 725.0,1580.1 725.5,1593.7C726.1,1607.3 726.6,1623.6 727.1,1636.5C727.6,1649.3 728.1,1664.4 728.6,1671.4C729.0,1676.7 729.4,1683.1 729.8,1683.1C730.3,1683.1 730.8,1681.0 731.4,1679.2C732.0,1677.0 732.7,1670.7 733.3,1667.5C734.1,1663.7 734.9,1658.6 735.6,1657.8C736.3,1657.2 736.9,1656.7 737.6,1656.7C738.2,1656.7 738.9,1662.3 739.5,1665.6C740.3,1669.6 741.1,1676.4 741.9,1679.2C742.5,1681.5 743.1,1684.3 743.8,1684.3C744.4,1684.3 745.1,1683.7 745.7,1683.1C746.4,1682.5 747.0,1681.1 747.7,1679.2C748.2,1677.7 748.7,1673.2 749.2,1671.4C749.8,1669.7 750.3,1668.2 750.8,1667.5C751.6,1666.5 752.3,1665.6 753.1,1665.6C753.9,1665.6 754.7,1666.8 755.5,1666.8C756.1,1666.8 756.7,1664.5 757.4,1661.7C757.9,1659.5 758.4,1652.6 759.0,1644.2C759.3,1638.0 759.7,1616.6 760.1,1613.1C760.8,1607.4 761.4,1608.1 762.1,1603.4C762.4,1600.6 762.8,1596.5 763.2,1589.8C763.7,1581.0 764.3,1556.8 764.8,1535.4C765.3,1514.1 765.8,1478.2 766.3,1457.7C766.7,1442.3 767.1,1420.1 767.5,1418.9C767.9,1417.6 768.3,1416.9 768.7,1416.9C769.1,1416.9 769.4,1427.0 769.8,1438.3C770.1,1445.8 770.3,1481.9 770.6,1484.1C771.1,1488.7 771.6,1488.6 772.2,1490.7C772.8,1493.4 773.5,1495.6 774.1,1498.5C774.6,1500.8 775.1,1501.8 775.7,1506.3C776.0,1509.6 776.4,1527.4 776.8,1535.4C777.3,1546.2 777.9,1550.8 778.4,1562.6C778.9,1574.4 779.4,1598.5 779.9,1613.1C780.5,1627.8 781.0,1643.2 781.5,1652.0C781.7,1656.4 782.0,1662.5 782.3,1662.5C782.7,1662.5 783.0,1652.1 783.4,1644.2C783.9,1633.7 784.5,1610.9 785.0,1597.6C785.5,1584.3 786.0,1569.4 786.5,1562.6C787.2,1554.2 787.8,1545.1 788.5,1545.1C789.0,1545.1 789.5,1548.6 790.0,1551.0C790.7,1553.9 791.3,1558.7 792.0,1562.6C792.6,1566.5 793.3,1569.1 793.9,1574.3C794.6,1579.5 795.2,1589.8 795.9,1597.6C796.5,1605.4 797.2,1614.4 797.8,1620.9C798.3,1626.1 798.8,1634.5 799.4,1634.5C799.6,1634.5 799.9,1626.6 800.1,1620.9C800.4,1615.2 800.7,1597.6 800.9,1597.6C801.4,1597.6 802.0,1603.4 802.5,1603.4C803.0,1603.4 803.5,1600.2 804.0,1597.6C804.7,1594.3 805.3,1587.2 806.0,1582.1C806.6,1576.9 807.3,1570.5 807.9,1566.5C808.7,1561.7 809.5,1559.0 810.2,1554.9C811.0,1550.7 811.8,1544.6 812.6,1541.3C813.4,1538.0 814.1,1534.8 814.9,1533.5C815.7,1532.1 816.5,1531.3 817.2,1530.8C818.0,1530.2 818.8,1529.6 819.6,1529.6C820.2,1529.6 820.9,1532.2 821.5,1533.5C822.2,1534.8 822.8,1535.7 823.5,1537.4C824.0,1538.7 824.5,1541.0 825.0,1543.2C825.5,1545.4 826.0,1548.8 826.6,1551.0C827.1,1553.2 827.6,1556.3 828.1,1556.8C828.8,1557.5 829.4,1558.0 830.1,1558.0C830.7,1558.0 831.4,1552.0 832.0,1547.1C832.7,1542.1 833.3,1532.1 833.9,1523.8C834.6,1515.4 835.2,1504.6 835.9,1496.6C836.5,1488.6 837.2,1479.1 837.8,1475.2C838.3,1472.1 838.9,1468.6 839.4,1468.6C839.9,1468.6 840.4,1470.9 840.9,1473.3C841.6,1476.2 842.2,1485.6 842.9,1492.7C843.5,1499.8 844.2,1508.1 844.8,1516.0C845.3,1522.4 845.9,1527.3 846.4,1535.4C846.9,1543.6 847.4,1568.5 847.9,1568.5C848.2,1568.5 848.5,1535.4 848.7,1535.4C849.1,1535.4 849.6,1571.9 850.0,1574.3C850.5,1577.2 851.0,1579.0 851.6,1579.0C852.1,1579.0 852.6,1574.4 853.1,1570.4C853.8,1565.4 854.4,1553.0 855.1,1543.2C855.8,1531.4 856.6,1515.3 857.4,1504.3C858.0,1495.2 858.7,1482.4 859.3,1480.3C859.8,1478.5 860.4,1477.1 860.9,1477.1C861.4,1477.1 861.9,1481.3 862.4,1484.9C863.1,1489.4 863.7,1499.9 864.4,1508.2C865.0,1516.6 865.7,1528.8 866.3,1535.4C867.0,1542.0 867.6,1546.5 868.3,1551.0C868.9,1555.4 869.6,1559.1 870.2,1562.6C870.7,1565.4 871.2,1570.4 871.8,1570.4C872.4,1570.4 873.1,1570.1 873.7,1569.6C874.2,1569.2 874.7,1562.6 875.3,1562.6C875.8,1562.6 876.3,1563.4 876.8,1564.6C877.2,1565.4 877.6,1571.4 878.0,1574.3C878.5,1578.2 879.0,1584.8 879.5,1584.8C879.8,1584.8 880.0,1570.6 880.3,1566.5C880.7,1560.3 881.1,1553.7 881.5,1552.9C882.1,1551.6 882.8,1551.0 883.4,1551.0C884.1,1551.0 884.7,1555.8 885.4,1556.8C886.0,1557.8 886.7,1558.7 887.3,1558.7C887.8,1558.7 888.3,1554.9 888.9,1551.0C889.4,1547.1 889.9,1536.0 890.4,1527.7C890.9,1519.3 891.4,1505.2 892.0,1500.5C892.5,1495.7 893.0,1490.7 893.5,1490.7C894.0,1490.7 894.6,1491.9 895.1,1491.9C895.6,1491.9 896.1,1491.5 896.6,1490.7C897.0,1490.2 897.4,1482.9 897.8,1477.1C898.2,1471.4 898.6,1461.6 899.0,1453.8C899.3,1446.1 899.7,1431.2 900.1,1430.5C900.4,1430.0 900.6,1429.7 900.9,1429.7C901.2,1429.7 901.4,1453.1 901.7,1453.8C902.2,1455.2 902.7,1455.0 903.2,1455.8C903.9,1456.8 904.5,1458.4 905.2,1459.7C905.8,1461.0 906.5,1461.7 907.1,1463.5C907.6,1465.0 908.2,1467.7 908.7,1471.3C909.2,1474.9 909.7,1482.4 910.2,1488.8C910.9,1496.8 911.5,1506.3 912.2,1516.0C912.8,1525.7 913.5,1537.4 914.1,1547.1C914.8,1556.8 915.4,1565.9 916.1,1574.3C916.7,1582.7 917.4,1589.8 918.0,1597.6C918.6,1605.4 919.3,1614.7 919.9,1620.9C920.6,1627.1 921.2,1635.1 921.9,1636.5C922.4,1637.6 922.9,1638.4 923.4,1638.4C924.0,1638.4 924.5,1633.3 925.0,1628.7C925.5,1624.1 926.0,1614.5 926.5,1605.4C927.1,1596.3 927.6,1572.3 928.1,1572.3C928.5,1572.3 928.9,1585.9 929.3,1585.9C929.7,1585.9 930.0,1576.2 930.4,1570.4C931.0,1562.6 931.5,1549.2 932.0,1543.2C932.5,1537.2 933.0,1531.6 933.5,1529.6C934.1,1527.6 934.6,1526.3 935.1,1525.7C935.6,1525.1 936.1,1524.6 936.7,1524.6C937.2,1524.6 937.7,1527.7 938.2,1527.7C938.6,1527.7 939.0,1527.4 939.4,1526.9C939.8,1526.4 940.1,1515.2 940.5,1515.2C940.9,1515.2 941.3,1520.2 941.7,1523.8C942.2,1528.5 942.7,1536.0 943.3,1543.2C943.9,1552.3 944.6,1564.6 945.2,1574.3C945.8,1584.0 946.5,1595.4 947.1,1601.5C947.8,1607.5 948.4,1613.7 949.1,1615.1C949.6,1616.2 950.1,1617.0 950.6,1617.0C951.2,1617.0 951.7,1613.0 952.2,1609.3C952.8,1604.6 953.5,1591.1 954.1,1582.1C954.8,1573.0 955.4,1559.5 956.1,1554.9C956.7,1550.2 957.4,1545.5 958.0,1545.5C958.7,1545.5 959.3,1546.2 960.0,1547.1C960.6,1548.0 961.3,1554.3 961.9,1558.7C962.6,1563.2 963.2,1568.9 963.9,1574.3C964.4,1578.6 964.9,1586.8 965.4,1587.9C965.9,1589.0 966.4,1589.8 967.0,1589.8C967.5,1589.8 968.0,1585.2 968.5,1582.1C969.0,1579.0 969.6,1572.3 970.1,1570.4C970.6,1568.5 971.1,1568.4 971.6,1566.5C972.0,1565.1 972.4,1558.7 972.8,1558.7C973.0,1558.7 973.3,1582.1 973.6,1582.1C974.0,1582.1 974.3,1574.6 974.7,1570.4C975.1,1566.2 975.5,1558.5 975.9,1556.8C976.5,1553.9 977.2,1551.8 977.8,1551.8C978.5,1551.8 979.1,1554.8 979.8,1556.8C980.4,1558.8 981.1,1562.4 981.7,1564.6C982.4,1566.8 983.0,1567.8 983.7,1570.4C984.3,1573.0 985.0,1577.2 985.6,1582.1C986.3,1586.9 986.9,1595.0 987.6,1601.5C988.2,1608.0 988.9,1616.3 989.5,1620.9C990.1,1625.6 990.8,1631.3 991.4,1631.8C992.1,1632.3 992.7,1632.6 993.4,1632.6C993.9,1632.6 994.4,1628.7 994.9,1628.7C995.3,1628.7 995.7,1633.0 996.1,1634.5C996.5,1636.1 996.9,1638.4 997.3,1638.4C997.8,1638.4 998.3,1635.6 998.8,1632.6C999.5,1628.8 1000.1,1615.2 1000.8,1605.4C1001.5,1593.6 1002.3,1579.5 1003.1,1566.5C1003.9,1553.6 1004.7,1539.2 1005.4,1527.7C1006.2,1516.1 1007.0,1503.7 1007.8,1496.6C1008.5,1489.4 1009.3,1482.3 1010.1,1480.3C1010.9,1478.2 1011.6,1476.4 1012.4,1476.4C1013.1,1476.4 1013.7,1478.8 1014.4,1481.0C1015.0,1483.3 1015.7,1487.8 1016.3,1492.7C1017.0,1497.5 1017.6,1504.6 1018.3,1512.1C1018.9,1519.7 1019.5,1530.2 1020.2,1539.3C1020.8,1548.4 1021.5,1563.8 1022.1,1566.5C1022.7,1568.7 1023.2,1567.8 1023.7,1570.4C1024.0,1571.7 1024.2,1585.9 1024.5,1589.8C1025.0,1597.6 1025.5,1600.2 1026.0,1605.4C1026.7,1611.9 1027.3,1621.9 1028.0,1624.8C1028.5,1627.1 1029.0,1629.5 1029.5,1629.5C1030.0,1629.5 1030.6,1627.3 1031.1,1624.8C1031.6,1622.3 1032.1,1612.9 1032.6,1605.4C1033.1,1597.8 1033.7,1585.7 1034.2,1578.2C1034.7,1570.6 1035.2,1561.9 1035.7,1558.7C1036.4,1554.7 1037.0,1551.0 1037.7,1551.0C1038.2,1551.0 1038.7,1552.8 1039.2,1554.9C1039.8,1556.9 1040.3,1564.2 1040.8,1570.4C1041.3,1576.6 1041.8,1586.3 1042.3,1593.7C1042.9,1601.2 1043.4,1612.4 1043.9,1615.1C1044.3,1617.1 1044.7,1617.9 1045.1,1619.0C1045.6,1620.5 1046.1,1622.0 1046.6,1622.9C1047.1,1623.7 1047.7,1623.8 1048.2,1624.8C1048.7,1625.8 1049.2,1631.1 1049.7,1632.6C1050.4,1634.5 1051.0,1636.5 1051.7,1636.5C1052.2,1636.5 1052.7,1632.4 1053.2,1628.7C1053.7,1625.0 1054.3,1616.5 1054.8,1609.3C1055.4,1600.2 1056.1,1587.8 1056.7,1578.2C1057.4,1568.5 1058.0,1557.6 1058.7,1551.0C1059.3,1544.4 1060.0,1537.8 1060.6,1535.4C1061.3,1533.0 1061.9,1530.8 1062.6,1530.8C1063.1,1530.8 1063.6,1533.0 1064.1,1535.4C1064.6,1537.8 1065.1,1545.3 1065.7,1551.0C1066.3,1558.0 1067.0,1566.5 1067.6,1574.3C1068.3,1582.1 1068.9,1591.4 1069.5,1597.6C1070.2,1603.8 1070.8,1611.1 1071.5,1613.1C1072.0,1614.8 1072.5,1616.3 1073.0,1616.3C1073.6,1616.3 1074.1,1612.7 1074.6,1609.3C1075.1,1605.8 1075.6,1597.8 1076.2,1589.8C1076.7,1581.9 1077.2,1567.6 1077.7,1558.7C1078.2,1549.9 1078.7,1540.4 1079.3,1535.4C1079.9,1529.2 1080.6,1523.3 1081.2,1521.8C1081.9,1520.3 1082.5,1519.1 1083.1,1519.1C1083.8,1519.1 1084.4,1519.8 1085.1,1520.7C1085.6,1521.4 1086.1,1524.7 1086.6,1527.7C1087.3,1531.4 1087.9,1538.0 1088.6,1543.2C1089.2,1548.4 1089.9,1554.8 1090.5,1558.7C1091.2,1562.7 1091.8,1566.0 1092.5,1568.5C1093.1,1570.9 1093.8,1573.6 1094.4,1574.3C1095.1,1574.9 1095.7,1575.5 1096.4,1575.5C1096.9,1575.5 1097.4,1574.9 1097.9,1574.3C1098.4,1573.7 1098.9,1572.1 1099.5,1570.4C1100.0,1568.7 1100.5,1563.1 1101.0,1562.6C1101.5,1562.2 1102.1,1561.9 1102.6,1561.9C1103.1,1561.9 1103.6,1563.3 1104.1,1564.6C1104.6,1565.8 1105.2,1569.4 1105.7,1570.4C1106.2,1571.4 1106.7,1571.4 1107.2,1572.3C1107.8,1573.3 1108.3,1576.6 1108.8,1578.2C1109.4,1580.1 1110.1,1581.8 1110.7,1582.8C1111.4,1583.9 1112.0,1585.2 1112.7,1585.2C1113.3,1585.2 1114.0,1584.6 1114.6,1584.0C1115.3,1583.4 1115.9,1581.7 1116.6,1580.1C1117.3,1578.2 1118.1,1575.2 1118.9,1572.3C1119.7,1569.5 1120.4,1565.1 1121.2,1562.6C1122.0,1560.2 1122.8,1558.4 1123.6,1556.8C1124.3,1555.2 1125.1,1553.5 1125.9,1552.9C1126.7,1552.3 1127.4,1551.9 1128.2,1551.8C1129.0,1551.6 1129.8,1551.4 1130.6,1551.4C1131.3,1551.4 1132.1,1551.8 1132.9,1552.1C1133.7,1552.5 1134.4,1553.3 1135.2,1554.1C1136.0,1554.9 1136.8,1556.2 1137.5,1557.2C1138.3,1558.2 1139.1,1560.3 1139.9,1560.3C1140.7,1560.3 1141.4,1560.0 1142.2,1559.5C1143.0,1559.1 1143.8,1556.3 1144.5,1554.9C1145.3,1553.4 1146.1,1552.1 1146.9,1551.0C1147.6,1549.8 1148.4,1547.9 1149.2,1547.9C1150.6,1547.8 1151.9,1547.8 1153.3,1547.8C1154.5,1547.8 1155.8,1550.0 1157.0,1551.8C1158.0,1553.2 1159.0,1556.3 1160.0,1557.8C1161.3,1559.7 1162.5,1562.3 1163.8,1562.3C1165.0,1562.3 1166.3,1561.0 1167.5,1560.1C1168.8,1559.1 1170.0,1557.3 1171.3,1556.3C1172.8,1555.1 1174.3,1553.3 1175.8,1553.3C1177.1,1553.3 1178.3,1554.9 1179.6,1556.3C1180.8,1557.7 1182.1,1561.3 1183.3,1563.1C1184.8,1565.2 1186.3,1568.3 1187.8,1568.3C1189.1,1568.3 1190.3,1566.4 1191.6,1565.3C1192.8,1564.3 1194.1,1562.1 1195.3,1561.9C1196.6,1561.7 1197.8,1561.6 1199.1,1561.6C1200.6,1561.6 1202.1,1563.3 1203.6,1564.6C1204.8,1565.7 1206.1,1567.9 1207.3,1569.1C1208.6,1570.3 1209.8,1572.1 1211.1,1572.1C1212.3,1572.1 1213.6,1569.8 1214.8,1569.8C1216.1,1569.8 1217.4,1571.0 1218.6,1571.8C1219.9,1572.5 1221.1,1574.3 1222.4,1574.3C1224.1,1574.3 1225.9,1574.3 1227.6,1574.3C1229.1,1574.3 1230.6,1575.8 1232.1,1576.6C1233.6,1577.4 1235.1,1579.3 1236.6,1579.3C1238.4,1579.3 1240.1,1578.8 1241.9,1578.1C1243.1,1577.6 1244.4,1574.8 1245.6,1573.6C1246.9,1572.4 1248.1,1570.6 1249.4,1570.6C1250.6,1570.6 1251.9,1571.3 1253.1,1572.1C1254.4,1572.8 1255.6,1575.2 1256.9,1576.6C1257.9,1577.7 1258.9,1579.6 1259.9,1579.6C1261.2,1579.6 1262.4,1576.6 1263.7,1575.1C1264.9,1573.5 1266.2,1570.9 1267.4,1570.3C1268.4,1569.8 1269.4,1569.4 1270.4,1569.4C1271.7,1569.4 1272.9,1571.5 1274.2,1572.8C1275.4,1574.1 1276.7,1576.2 1277.9,1577.3C1278.9,1578.3 1279.9,1579.6 1280.9,1579.6C1282.2,1579.6 1283.4,1576.6 1284.7,1575.1C1285.9,1573.6 1287.2,1570.8 1288.4,1570.6C1289.4,1570.4 1290.4,1570.3 1291.4,1570.3C1292.7,1570.3 1293.9,1572.3 1295.2,1573.6C1296.2,1574.6 1297.2,1576.5 1298.2,1577.3C1298.9,1578.0 1299.7,1578.8 1300.4,1578.8C1301.7,1578.8 1302.9,1576.2 1304.2,1574.8C1305.5,1573.4 1306.7,1571.3 1308.0,1570.6C1309.0,1570.0 1310.0,1569.4 1311.0,1569.4C1312.2,1569.4 1313.5,1570.5 1314.7,1571.3C1316.0,1572.2 1317.2,1574.3 1318.5,1575.1C1319.5,1575.7 1320.5,1576.6 1321.5,1576.6C1322.7,1576.6 1324.0,1574.3 1325.2,1573.6C1326.7,1572.8 1328.2,1571.8 1329.7,1571.8C1331.0,1571.8 1332.2,1572.1 1333.5,1572.4C1335.0,1572.8 1336.5,1574.9 1338.0,1575.8C1339.5,1576.7 1341.0,1578.1 1342.5,1578.1C1344.0,1578.1 1345.5,1576.6 1347.0,1575.8C1348.5,1575.1 1350.0,1573.6 1351.5,1573.6C1352.8,1573.6 1354.0,1573.7 1355.3,1573.9C1356.5,1574.1 1357.8,1575.4 1359.0,1575.8C1360.3,1576.3 1361.5,1576.9 1362.8,1576.9C1364.3,1576.9 1365.8,1575.6 1367.3,1575.1C1368.8,1574.5 1370.3,1573.6 1371.8,1573.6C1373.5,1573.6 1375.3,1573.7 1377.0,1573.9C1379.0,1574.1 1381.0,1575.4 1383.0,1575.4C1384.8,1575.4 1386.5,1575.1 1388.3,1574.8C1389.8,1574.5 1391.3,1573.9 1392.8,1573.6C1394.6,1573.3 1396.3,1572.8 1398.1,1572.8C1399.6,1572.8 1401.1,1573.4 1402.6,1573.9C1404.1,1574.3 1405.6,1575.8 1407.1,1575.8C1408.6,1575.8 1410.1,1575.5 1411.6,1575.1C1412.8,1574.8 1414.1,1573.4 1415.3,1572.8C1416.3,1572.4 1417.3,1571.8 1418.3,1571.8C1419.6,1571.8 1420.8,1572.4 1422.1,1572.8C1423.3,1573.3 1424.6,1574.5 1425.8,1575.1C1426.8,1575.6 1427.8,1576.3 1428.8,1576.3C1430.3,1576.3 1431.8,1575.1 1433.3,1574.3C1434.6,1573.7 1435.9,1572.1 1437.1,1571.8C1438.1,1571.5 1439.1,1571.3 1440.1,1571.3C1441.4,1571.3 1442.6,1572.7 1443.9,1573.3C1445.1,1573.9 1446.4,1574.9 1447.6,1575.1C1448.9,1575.3 1450.1,1575.4 1451.4,1575.4C1452.6,1575.4 1453.9,1573.6 1455.1,1572.8C1456.4,1572.1 1457.6,1570.9 1458.9,1570.9C1460.1,1570.9 1461.4,1571.4 1462.6,1571.8C1463.9,1572.2 1465.1,1573.6 1466.4,1573.9C1467.4,1574.1 1468.4,1574.3 1469.4,1574.3C1470.9,1574.3 1472.4,1572.8 1473.9,1572.1C1475.4,1571.4 1476.9,1570.3 1478.4,1570.3C1479.7,1570.3 1480.9,1570.4 1482.2,1570.6C1483.4,1570.8 1484.7,1572.0 1485.9,1572.4C1487.2,1572.8 1488.4,1573.3 1489.7,1573.3C1491.2,1573.3 1492.7,1572.3 1494.2,1571.8C1495.4,1571.3 1496.7,1570.3 1497.9,1570.3C1499.8,1570.3 1501.6,1570.4 1503.5,1570.6C1505.6,1570.8 1507.7,1573.2 1509.8,1573.2C1513.5,1573.2 1517.3,1569.4 1521.0,1569.4C1525.2,1569.4 1529.3,1572.6 1533.5,1572.6C1537.8,1572.6 1542.2,1570.1 1546.5,1570.1C1549.8,1570.1 1553.0,1572.7 1556.3,1572.7C1559.6,1572.7 1562.8,1570.1 1566.1,1570.1C1569.4,1570.1 1572.6,1572.7 1575.9,1572.7C1579.2,1572.7 1582.4,1570.1 1585.7,1570.1C1589.0,1570.1 1592.2,1572.7 1595.5,1572.7C1598.8,1572.7 1602.0,1570.1 1605.3,1570.1C1608.6,1570.1 1611.8,1572.6 1615.1,1572.6C1618.4,1572.6 1621.6,1570.2 1624.9,1570.2C1628.2,1570.2 1631.4,1572.6 1634.7,1572.6C1638.0,1572.6 1641.2,1570.2 1644.5,1570.2C1647.8,1570.2 1651.0,1572.6 1654.3,1572.6C1657.6,1572.6 1660.8,1570.2 1664.1,1570.2C1667.4,1570.2 1670.6,1572.6 1673.9,1572.6C1677.2,1572.6 1680.4,1570.3 1683.7,1570.3C1687.0,1570.3 1690.2,1572.5 1693.5,1572.5C1696.8,1572.5 1700.0,1570.3 1703.3,1570.3C1706.6,1570.3 1709.8,1572.5 1713.1,1572.5C1716.4,1572.5 1719.6,1570.3 1722.9,1570.3C1726.2,1570.3 1729.4,1572.5 1732.7,1572.5C1736.0,1572.5 1739.2,1570.3 1742.5,1570.3C1745.8,1570.3 1749.0,1572.5 1752.3,1572.5C1755.6,1572.5 1758.8,1570.4 1762.1,1570.4C1765.4,1570.4 1768.6,1572.4 1771.9,1572.4C1775.2,1572.4 1778.4,1570.4 1781.7,1570.4C1785.0,1570.4 1788.2,1572.4 1791.5,1572.4C1794.8,1572.4 1798.0,1570.4 1801.3,1570.4C1804.6,1570.4 1807.8,1572.4 1811.1,1572.4C1814.4,1572.4 1817.6,1570.4 1820.9,1570.4C1824.2,1570.4 1827.4,1572.3 1830.7,1572.3C1834.0,1572.3 1837.2,1570.5 1840.5,1570.5C1843.8,1570.5 1847.0,1572.3 1850.3,1572.3C1853.6,1572.3 1856.8,1570.5 1860.1,1570.5C1862.2,1570.5 1864.4,1570.7 1866.5,1570.8" fill="none" stroke-width="4.3" stroke-linejoin="round" stroke-linecap="round"/>
<path d="M2260.5,372.3L2273.3,372.3L2285.0,371.1L2300.5,370.0L2312.2,370.4L2321.9,372.3L2330.8,375.0L2332.8,392.5L2335.9,410.4L2338.6,388.6L2340.9,375.4L2343.6,392.5L2346.4,410.4L2349.1,392.5L2352.2,379.7L2354.1,384.7L2356.5,408.1L2358.8,458.6L2361.1,555.7L2363.1,620.2L2365.0,536.3L2366.6,419.7L2368.1,329.6L2370.5,331.1L2373.6,338.9L2375.5,303.1L2377.5,225.4L2379.8,166.4L2382.1,217.7L2386.0,275.9L2389.9,326.5L2393.0,373.1L2395.7,426.7L2398.0,400.3L2400.4,379.7L2402.3,380.9L2404.7,400.3L2407.0,439.1L2408.9,516.9L2410.9,594.6L2412.4,638.9L2414.0,536.3L2415.5,419.7L2417.5,286.8L2419.8,310.9L2422.5,334.2L2424.9,264.3L2428.0,183.5L2430.3,303.1L2432.6,419.7L2433.8,460.5L2436.1,400.3L2438.8,354.4L2441.6,400.3L2444.3,443.8L2447.0,400.3L2450.9,349.8L2455.2,321.8L2457.9,400.3L2460.6,463.2L2463.3,419.7L2466.0,342.0L2468.8,225.4L2471.9,94.5L2474.6,225.4L2477.3,380.9L2479.6,516.9L2481.6,586.8L2484.3,497.4L2487.8,380.9L2492.1,251.1L2494.8,380.9L2497.1,478.0L2499.1,543.7L2501.4,419.7L2504.1,303.1L2506.8,225.4L2510.0,153.5L2511.5,264.3L2513.1,380.9L2514.6,480.7L2517.3,400.3L2520.8,303.1L2525.1,240.2L2535.4,426.7L2538.5,400.3L2542.0,368.4L2544.4,439.1L2546.3,501.3L2548.3,380.9L2550.2,264.3L2552.5,217.7L2555.3,196.3L2557.6,193.6L2559.5,303.1L2561.9,419.7L2563.8,490.4L2565.7,342.0L2567.7,230.5L2570.4,322.6L2573.5,419.7L2576.2,466.3L2578.6,498.6L2581.7,458.6L2584.4,400.3L2587.1,264.3L2589.8,151.6L2592.6,264.3L2595.3,380.9L2598.0,458.6L2600.7,506.0L2603.1,380.9L2605.4,283.7L2607.3,233.2L2610.0,287.6L2612.8,361.4L2615.5,411.9L2618.2,452.7L2621.7,411.9L2625.6,361.4L2629.1,316.0L2632.2,349.8L2635.7,380.9L2640.0,411.2L2643.9,373.1L2647.7,345.9L2650.8,336.6L2654.3,357.5L2658.2,380.9L2662.1,396.4L2665.6,404.2L2669.1,380.9L2672.2,364.2L2676.5,370.8L2683.1,370.4L2687.0,349.8L2690.9,352.1L2695.1,355.6L2698.3,377.0L2701.4,373.1L2704.9,367.6L2708.7,400.3L2712.6,380.9L2716.5,361.4L2720.4,351.7L2727.0,350.2L2731.3,360.7L2737.9,363.4L2742.2,356.8L2745.3,367.3L2748.4,379.7L2752.7,350.6L2759.3,351.3L2762.8,391.0L2769.8,391.7L2774.0,346.3L2777.1,365.3L2780.2,386.3L2784.9,356.0L2788.8,361.4L2792.3,369.2L2796.2,362.2L2802.8,359.9L2806.7,393.7L2813.4,366.4L2817.4,362.1L2820.8,374.9L2824.2,386.7L2828.5,372.9L2831.6,384.1L2835.4,398.8L2840.8,378.0L2845.8,356.4L2850.4,373.0L2854.7,356.4L2856.9,350.5L2860.9,391.1L2869.4,374.9L2878.2,357.6L2882.5,381.0L2889.0,362.7L2893.6,390.0L2898.7,378.7L2904.7,368.2L2911.0,384.1L2915.3,351.4L2918.7,368.7L2922.1,387.5L2926.0,376.1L2932.6,375.6L2936.8,363.3L2941.1,364.4L2948.5,368.7L2958.4,367.8L2964.2,373.3L2969.6,378.7L2975.0,376.4L2980.4,371.0L2986.6,376.7L2990.8,368.4L2997.4,374.1L3002.8,367.9L3008.5,363.0L3013.6,368.7L3018.2,370.2L3024.1,373.0L3029.8,371.5L3035.2,373.0L3040.6,373.8L3045.2,368.7L3052.1,379.8L3057.5,375.6L3063.2,371.8L3069.1,371.8L3073.7,372.6L3078.4,367.9L3083.8,368.7L3089.9,368.7L3095.3,368.2L3099.6,379.8L3105.3,367.5L3110.3,386.7L3116.9,373.0L3122.3,374.9L3127.7,377.5L3133.9,374.9L3138.5,371.8L3143.1,368.4L3147.0,372.6L3150.1,378.0L3153.9,387.5L3160.4,363.6L3164.7,379.2L3170.1,372.6L3175.5,364.1L3178.6,374.9L3181.9,387.1L3185.5,374.8L3192.7,380.8L3197.1,376.4L3203.4,377.9L3208.2,373.2L3214.5,375.7L3218.8,373.2L3225.4,378.9L3231.0,372.9L3236.2,370.2L3240.9,379.2L3246.8,366.2L3251.5,375.7L3262.0,376.0L3269.0,370.7L3273.4,377.3L3279.7,371.3L3285.3,372.9L3294.8,380.0L3305.4,374.5L3312.2,379.2L3323.2,372.6L3332.7,374.5L3345.4,373.2L3349.0,384.3L3355.4,365.4L3362.0,371.3L3369.1,375.3L3377.1,377.9L3381.3,366.9L3385.8,371.3L3388.9,377.6L3392.9,391.1L3399.2,367.3L3403.2,376.0L3409.5,376.0L3414.3,371.0L3420.3,381.6L3425.0,371.3L3433.2,375.7L3441.9,379.2L3447.5,374.5L3453.0,372.6L3464.1,381.6L3474.7,372.6L3483.1,380.8L3489.9,390.6L3496.6,375.3L3500.5,374.8L3507.6,384.0L3514.0,380.0L3518.7,375.3L3522.4,356.7L3529.0,393.8L3532.2,390.3L3536.9,377.6L3539.8,365.4L3544.4,382.1L3552.0,377.6L3560.7,374.5" fill="none" stroke-width="4.3" stroke-linejoin="round" stroke-linecap="round"/>
<path d="M2260.5,1006.4L2319.9,1006.4L2323.8,1011.4L2327.7,1021.1L2330.4,1032.8L2332.8,1019.2L2335.9,1000.6L2338.6,1013.4L2341.7,1023.9L2344.4,1015.3L2347.1,1005.6L2349.9,1030.9L2353.7,1069.7L2358.0,1102.0L2361.5,1030.9L2365.8,953.1L2370.1,894.9L2374.0,867.7L2378.2,894.9L2384.1,953.1L2389.9,1007.5L2395.7,1058.1L2400.8,1100.8L2403.9,1139.7L2406.6,1221.3L2409.3,1139.7L2412.4,1069.7L2417.1,1007.5L2421.8,962.9L2424.9,960.1L2428.0,957.8L2430.3,914.3L2433.8,863.0L2436.9,914.3L2440.4,972.6L2443.9,1018.4L2449.7,1018.4L2452.8,1027.0L2455.6,1033.2L2458.3,999.8L2460.6,973.4L2463.3,1015.3L2467.6,1069.7L2471.5,1102.0L2475.4,1069.7L2480.0,1023.1L2484.3,972.6L2487.8,931.4L2490.1,972.6L2492.5,1009.1L2495.6,972.6L2499.1,955.9L2503.4,951.6L2506.5,992.0L2510.0,1027.0L2514.2,992.0L2518.1,960.9L2520.8,945.4L2522.8,1011.4L2524.7,1063.9L2528.2,1058.1L2530.0,1057.0L2533.0,1042.9L2536.0,1016.8L2539.0,986.7L2542.1,967.6L2545.1,980.6L2549.1,1004.7L2553.1,1025.4L2556.7,984.2L2565.2,980.6L2568.2,960.5L2571.2,1004.7L2574.8,1047.3L2580.2,1026.8L2585.7,1015.8L2589.7,1031.5L2594.3,1031.5L2601.3,1029.5L2606.4,1033.9L2609.4,1037.9L2612.0,1044.1L2618.8,1044.1L2623.4,1010.8L2628.5,970.6L2633.3,933.4L2636.5,970.6L2640.1,1020.8L2643.9,1062.4L2647.2,1030.9L2650.6,996.7L2654.6,970.6L2661.6,976.6L2666.7,1008.8L2672.1,1044.1L2676.7,1044.9L2683.1,1028.9L2687.8,1032.9L2691.8,1024.8L2694.8,1010.8L2698.4,981.6L2705.2,981.2L2709.5,995.7L2715.9,983.0L2719.9,982.6L2724.9,996.7L2731.0,1010.4L2737.0,1009.8L2742.0,1016.4L2747.0,1018.4L2752.5,1024.8L2763.1,1013.8L2769.5,1016.4L2773.8,1004.3L2780.2,1004.3L2784.8,1010.0L2791.3,997.3L2799.3,1001.7L2807.3,1007.8L2813.4,1013.8L2818.0,1020.8L2824.4,1014.4L2829.4,1020.8L2835.5,1023.8L2842.5,1004.7L2850.1,988.3L2860.6,1009.2L2871.6,1002.1L2878.7,1004.7L2883.1,1009.8L2889.7,1009.4L2893.7,1013.2L2898.5,1009.4L2904.2,1006.3L2909.9,1008.7L2914.9,1009.7L2921.5,1005.2L2926.9,1009.4L2933.0,1011.6L2936.9,1005.2L2941.8,1000.9L2947.5,998.8L2952.5,1000.9L2959.6,1005.2L2966.7,1008.7L2973.8,1011.1L2980.9,1012.6L2990.9,1012.6L2995.1,1008.0L2999.4,1002.3L3008.2,996.4L3013.6,1000.2L3019.3,1004.0L3024.9,1003.0L3030.6,1003.0L3034.6,1012.0L3046.2,1012.0L3057.6,1010.9L3069.0,1008.0L3077.5,1004.9L3084.3,1001.9L3088.9,1004.9L3094.5,1007.3L3100.2,1008.7L3105.9,1009.9L3110.2,1015.8L3116.6,1005.9L3123.0,1007.3L3127.5,1008.7L3134.3,1007.3L3142.8,1006.6L3149.2,1014.1L3155.6,1011.1L3159.9,1008.0L3164.9,1003.0L3169.8,1006.3L3175.5,1011.1L3181.9,1016.5L3186.2,1012.3L3191.1,1009.4L3196.8,1007.3L3203.9,1006.3L3211.0,1006.6L3218.8,1008.3L3225.2,1004.9L3230.7,1005.5L3236.4,1005.2L3240.6,1008.0L3246.3,1006.9L3252.7,1008.3L3259.1,1005.5L3264.8,1004.9L3269.0,1005.9L3274.0,1008.0L3279.7,1005.5L3284.7,1004.9L3290.3,1005.9L3294.3,1011.1L3299.6,1009.4L3306.0,1006.6L3310.9,1008.0L3317.0,1011.6L3323.0,1008.0L3328.7,1005.5L3334.4,1004.9L3340.1,1005.9L3345.0,1008.7L3349.0,1018.2L3355.4,999.8L3361.4,1003.8L3370.6,1009.4L3377.0,1009.4L3382.0,1005.5L3386.9,1009.4L3392.6,1011.1L3399.4,1010.6L3404.0,1005.5L3409.7,1005.2L3413.9,1000.9L3420.3,1008.0L3424.6,1005.5L3431.0,1005.2L3436.6,1006.6L3442.3,1009.1L3447.3,1007.7L3453.7,1008.7L3460.8,1006.9L3467.9,1006.3L3475.0,1007.3L3480.7,1010.9L3485.7,1015.8L3490.2,1022.9L3496.6,1004.5L3500.6,1004.5L3508.4,1010.1L3511.9,1009.4L3517.6,1004.5L3522.2,1000.6L3529.0,1006.3L3533.2,1001.6L3539.6,1008.3L3543.9,1003.8L3548.9,1003.0L3554.5,1004.5L3561.4,1008.0" fill="none" stroke-width="4.3" stroke-linejoin="round" stroke-linecap="round"/>
<path d="M2260.5,1612.3L2325.8,1612.3L2330.4,1616.2L2336.3,1609.9L2341.7,1610.7L2347.1,1602.2L2351.8,1603.7L2357.6,1613.4L2363.1,1543.1L2368.5,1668.6L2374.0,1555.1L2379.4,1615.4L2384.1,1621.6L2390.3,1636.7L2395.7,1595.9L2401.2,1556.3L2406.6,1658.9L2412.0,1515.5L2414.8,1642.6L2417.5,1744.8L2422.9,1712.5L2428.0,1642.6L2433.4,1589.3L2439.2,1669.8L2444.3,1564.9L2449.7,1496.1L2455.6,1571.5L2460.6,1495.3L2463.3,1700.9L2466.4,1946.1L2469.5,1875.7L2475.4,1662.0L2481.2,1531.8L2487.8,1579.6L2492.5,1507.3L2497.9,1584.3L2503.4,1656.2L2506.8,1526.0L2510.0,1418.0L2515.4,1642.6L2520.4,1720.3L2525.1,1766.1L2530.6,1662.0L2536.8,1545.4L2541.8,1463.8L2544.2,1623.1L2546.5,1774.7L2557.5,1548.5L2560.5,1558.6L2564.2,1571.6L2568.2,1569.6L2572.2,1610.8L2578.2,1661.1L2585.9,1669.7L2588.3,1600.8L2590.1,1549.5L2593.3,1590.7L2596.5,1634.5L2600.5,1579.1L2606.0,1630.9L2611.6,1668.5L2614.4,1641.0L2618.2,1608.4L2622.4,1633.3L2629.1,1628.5L2633.5,1583.9L2639.9,1583.9L2643.9,1640.2L2650.6,1640.2L2655.0,1646.0L2658.6,1600.8L2662.6,1576.7L2666.1,1562.6L2669.7,1590.7L2673.7,1624.9L2676.7,1655.0L2683.7,1661.1L2687.8,1681.2L2691.8,1661.1L2696.8,1620.9L2700.8,1592.7L2704.8,1570.6L2709.5,1589.1L2715.9,1583.1L2719.9,1637.3L2726.9,1636.9L2731.0,1617.9L2738.0,1620.9L2743.0,1632.9L2748.4,1659.1L2751.7,1617.9L2756.1,1610.8L2763.5,1607.2L2769.8,1640.6L2774.4,1601.4L2780.6,1630.5L2785.2,1597.8L2796.3,1615.8L2802.7,1600.4L2808.3,1616.8L2813.4,1647.4L2818.0,1612.2L2824.4,1614.4L2828.8,1633.9L2835.5,1629.9L2839.7,1641.6L2847.5,1620.9L2853.6,1606.8L2857.0,1595.7L2861.6,1606.8L2868.0,1609.2L2871.6,1652.0L2878.7,1620.9L2882.7,1619.5L2889.7,1601.4L2894.8,1603.2L2899.9,1640.0L2904.6,1620.8L2910.9,1635.7L2915.3,1594.9L2922.0,1624.3L2926.2,1612.3L2932.6,1633.3L2937.2,1608.3L2943.7,1621.5L2947.8,1615.1L2954.6,1623.6L2959.6,1622.2L2964.6,1618.0L2969.5,1611.6L2975.7,1623.4L2986.6,1620.4L2990.9,1626.1L2997.5,1617.5L3002.2,1620.4L3010.7,1613.4L3019.0,1609.4L3023.5,1617.2L3030.3,1613.0L3034.9,1615.1L3038.4,1620.8L3041.0,1625.8L3045.5,1616.5L3051.6,1614.7L3057.6,1620.8L3062.9,1625.8L3073.2,1619.4L3083.9,1614.1L3088.6,1621.5L3094.8,1611.3L3099.5,1620.8L3103.1,1619.7L3110.9,1612.6L3117.3,1612.6L3122.2,1617.2L3126.5,1617.7L3132.2,1616.2L3137.9,1619.7L3142.8,1631.9L3149.5,1604.5L3154.2,1623.4L3160.3,1615.8L3165.6,1620.4L3172.0,1620.4L3175.8,1615.8L3182.3,1622.2L3189.7,1618.0L3196.8,1613.4L3203.9,1622.6L3208.2,1613.7L3214.6,1628.3L3218.8,1616.2L3225.9,1619.1L3230.7,1616.2L3236.4,1614.7L3241.3,1618.0L3246.3,1619.7L3252.0,1620.5L3257.7,1615.8L3262.2,1617.7L3268.8,1615.4L3273.3,1622.2L3279.7,1617.5L3285.4,1614.7L3290.6,1612.3L3294.6,1615.1L3301.7,1615.4L3306.0,1619.1L3310.2,1618.7L3316.6,1621.8L3324.4,1619.1L3333.2,1615.8L3338.6,1617.5L3344.6,1622.2L3349.3,1618.2L3355.7,1620.8L3359.9,1615.4L3366.3,1615.1L3370.6,1611.6L3376.7,1616.5L3379.1,1625.1L3381.7,1633.3L3388.1,1605.9L3392.6,1623.2L3399.0,1615.8L3403.3,1619.1L3409.7,1618.9L3413.6,1609.9L3420.3,1621.1L3425.3,1617.2L3431.7,1616.8L3435.9,1612.6L3440.9,1615.8L3447.3,1620.5L3454.4,1617.2L3459.4,1615.8L3464.3,1615.8L3468.6,1621.1L3474.3,1620.1L3479.3,1618.0L3485.7,1629.6L3489.9,1613.4L3494.9,1613.4L3501.3,1617.2L3507.7,1614.4L3511.9,1616.5L3517.3,1630.7L3522.6,1633.9L3528.7,1593.5L3533.2,1628.2L3540.1,1606.2L3543.2,1612.3L3550.3,1620.5L3554.8,1613.7L3561.4,1620.5" fill="none" stroke-width="4.3" stroke-linejoin="round" stroke-linecap="round"/>
</svg>
</body></html>
